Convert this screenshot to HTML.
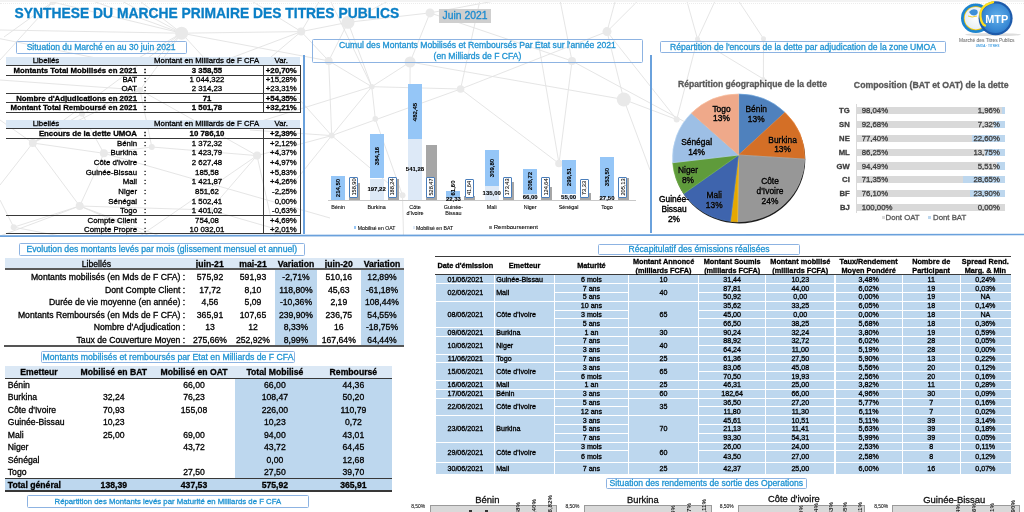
<!DOCTYPE html>
<html><head><meta charset="utf-8"><title>Synthese du marche primaire</title>
<style>
html,body{margin:0;padding:0;}
body{width:1024px;height:512px;overflow:hidden;background:#fff;position:relative;font-family:'Liberation Sans',sans-serif;}
.t{position:absolute;white-space:nowrap;-webkit-text-stroke:0.3px currentColor;}
.r{position:absolute;}
svg{position:absolute;left:0;top:0;}
</style></head><body>
<svg width="1024" height="512" style="position:absolute;left:0;top:0"><g stroke="#e2e2e2" stroke-width="0.9"><line x1="52.7" y1="2" x2="4" y2="37"/><line x1="52.7" y1="2" x2="181.6" y2="33.2"/><line x1="181.6" y1="33.2" x2="301.2" y2="31.6"/><line x1="181.6" y1="33.2" x2="32.8" y2="143"/><line x1="181.6" y1="33.2" x2="328.7" y2="60.9"/><line x1="301.2" y1="31.6" x2="348" y2="22.3"/><line x1="301.2" y1="31.6" x2="328.7" y2="60.9"/><line x1="301.2" y1="31.6" x2="250" y2="0"/><line x1="348" y1="22.3" x2="430" y2="12.9"/><line x1="348" y1="22.3" x2="328.7" y2="60.9"/><line x1="348" y1="22.3" x2="371.8" y2="86.7"/><line x1="328.7" y1="60.9" x2="371.8" y2="86.7"/><line x1="328.7" y1="60.9" x2="331.7" y2="135.6"/><line x1="410.1" y1="62" x2="371.8" y2="86.7"/><line x1="410.1" y1="62" x2="623.8" y2="99.5"/><line x1="410.1" y1="62" x2="410" y2="90"/><line x1="430" y1="12.9" x2="410.1" y2="62"/><line x1="430" y1="12.9" x2="572" y2="61"/><line x1="371.8" y1="86.7" x2="460.6" y2="89"/><line x1="371.8" y1="86.7" x2="375.3" y2="118.9"/><line x1="371.8" y1="86.7" x2="331.7" y2="135.6"/><line x1="331.7" y1="135.6" x2="460.6" y2="89"/><line x1="331.7" y1="135.6" x2="280" y2="200"/><line x1="331.7" y1="135.6" x2="402.5" y2="195.3"/><line x1="375.3" y1="118.9" x2="402.5" y2="195.3"/><line x1="402.5" y1="195.3" x2="403.5" y2="236"/><line x1="460.6" y1="89" x2="559" y2="163.5"/><line x1="460.6" y1="89" x2="607" y2="31.6"/><line x1="572" y1="61" x2="559" y2="163.5"/><line x1="538" y1="40" x2="559" y2="163.5"/><line x1="572" y1="61" x2="700" y2="130"/><line x1="607" y1="31.6" x2="623.8" y2="99.5"/><line x1="607" y1="31.6" x2="638.7" y2="0"/><line x1="623.8" y1="99.5" x2="676.7" y2="119.5"/><line x1="460.6" y1="89" x2="480" y2="0"/><line x1="371.8" y1="86.7" x2="330" y2="0"/><line x1="32.8" y1="143" x2="79.7" y2="206"/><line x1="32.8" y1="143" x2="0" y2="120"/><line x1="79.7" y1="206" x2="0" y2="236"/><line x1="79.7" y1="206" x2="150" y2="236"/><line x1="32.8" y1="143" x2="140" y2="90"/><line x1="140" y1="90" x2="181.6" y2="33.2"/><line x1="140" y1="90" x2="257" y2="155.6"/><line x1="257" y1="155.6" x2="331.7" y2="135.6"/><line x1="257" y1="155.6" x2="210" y2="210"/><line x1="79.7" y1="206" x2="210" y2="210"/><line x1="210" y1="210" x2="300" y2="236"/><line x1="52.7" y1="2" x2="0" y2="60"/><line x1="181.6" y1="33.2" x2="120" y2="0"/><line x1="348" y1="22.3" x2="390" y2="0"/><line x1="430" y1="12.9" x2="500" y2="0"/><line x1="572" y1="61" x2="560" y2="0"/><line x1="623.8" y1="99.5" x2="650" y2="170"/><line x1="140" y1="90" x2="0" y2="80"/><line x1="32.8" y1="143" x2="103.9" y2="153.3"/><line x1="103.9" y1="153.3" x2="151.8" y2="147"/><line x1="32.8" y1="143" x2="82" y2="113.7"/><line x1="82" y1="113.7" x2="103.9" y2="153.3"/><line x1="79.7" y1="206" x2="103.9" y2="153.3"/><line x1="79.7" y1="206" x2="13.7" y2="227.2"/><line x1="13.7" y1="227.2" x2="0" y2="200"/><line x1="151.8" y1="147" x2="257" y2="155.6"/><line x1="151.8" y1="147" x2="140" y2="90"/><line x1="82" y1="113.7" x2="140" y2="90"/><line x1="32.8" y1="143" x2="0" y2="185"/><line x1="79.7" y1="206" x2="160" y2="236"/><line x1="13.7" y1="227.2" x2="60" y2="236"/><line x1="607" y1="31.6" x2="615.5" y2="0"/><line x1="697.5" y1="39" x2="686.6" y2="0"/><line x1="697.5" y1="39" x2="715.5" y2="0"/><line x1="697.5" y1="39" x2="676.7" y2="119.5"/><line x1="763.5" y1="38.7" x2="738" y2="0"/><line x1="763.5" y1="38.7" x2="763.4" y2="79"/><line x1="697.5" y1="39" x2="763.4" y2="79"/><line x1="607" y1="31.6" x2="676.7" y2="119.5"/><line x1="371.8" y1="86.7" x2="250" y2="124.6"/><line x1="331.7" y1="135.6" x2="280" y2="77.7"/><line x1="331.7" y1="135.6" x2="250" y2="130"/><line x1="257" y1="155.6" x2="140" y2="236"/><line x1="257" y1="155.6" x2="275" y2="236"/><line x1="103.9" y1="153.3" x2="330" y2="218"/><line x1="181.6" y1="33.2" x2="135" y2="60"/><line x1="181.6" y1="33.2" x2="155" y2="60"/><line x1="181.6" y1="33.2" x2="206" y2="60"/><line x1="181.6" y1="33.2" x2="138.6" y2="0"/><line x1="0" y1="30" x2="181.6" y2="33.2"/><line x1="90" y1="0" x2="181.6" y2="33.2"/><line x1="225.6" y1="60" x2="301.2" y2="31.6"/><line x1="267.5" y1="60" x2="301.2" y2="31.6"/><line x1="0" y1="38.7" x2="106" y2="60"/><line x1="320" y1="0" x2="301.2" y2="31.6"/></g><g fill="#e9e9e9"><circle cx="52.7" cy="2" r="3"/><circle cx="181.6" cy="33.2" r="6.5"/><circle cx="301.2" cy="31.6" r="4"/><circle cx="348" cy="22.3" r="6.5"/><circle cx="328.7" cy="60.9" r="4"/><circle cx="410.1" cy="62" r="5.5"/><circle cx="430" cy="12.9" r="4.5"/><circle cx="371.8" cy="86.7" r="2.8"/><circle cx="460.6" cy="89" r="3.8"/><circle cx="375.3" cy="118.9" r="2.8"/><circle cx="331.7" cy="135.6" r="3"/><circle cx="402.5" cy="195.3" r="3"/><circle cx="559" cy="163.5" r="3.8"/><circle cx="623.8" cy="99.5" r="7"/><circle cx="572" cy="61" r="4"/><circle cx="607" cy="31.6" r="4.5"/><circle cx="676.7" cy="119.5" r="3"/><circle cx="32.8" cy="143" r="4"/><circle cx="79.7" cy="206" r="4"/><circle cx="140" cy="90" r="3"/><circle cx="257" cy="155.6" r="4"/><circle cx="210" cy="210" r="3"/><circle cx="763.5" cy="38.7" r="2.5"/><circle cx="103.9" cy="153.3" r="4"/><circle cx="151.8" cy="147" r="3"/><circle cx="13.7" cy="227.2" r="3"/><circle cx="82" cy="113.7" r="3"/><circle cx="697.5" cy="39" r="2.5"/><circle cx="763.4" cy="79" r="2"/></g></svg>
<div class="r" style="left:0.00px;top:0.00px;width:1024.00px;height:1.50px;background:#f3f3f3;"></div>
<div class="r" style="left:0;top:3px;width:1024px;height:0;border-top:1px dotted #ececec"></div>
<div class="t" style="left:14.60px;top:4.89px;width:400px;height:16.62px;line-height:16.62px;font-size:13.85px;font-weight:bold;color:#0a7fc6;text-align:left;">SYNTHESE DU MARCHE PRIMAIRE DES TITRES PUBLICS</div>
<div class="r" style="left:439.10px;top:8.90px;width:52.30px;height:14.60px;background:#cfcfcf;"></div>
<div class="t" style="left:265.00px;top:9.89px;width:400px;height:12.42px;line-height:12.42px;font-size:10.35px;color:#1a8bd0;text-align:center;">Juin 2021</div>
<div class="r" style="left:303.00px;top:55.00px;width:2.00px;height:179.00px;background:#6aa1dc;"></div>
<div class="r" style="left:650.30px;top:55.00px;width:1.70px;height:178.00px;background:#6aa1dc;"></div>
<svg width="1024" height="512" style="position:absolute;left:0;top:0"><line x1="0" y1="236.1" x2="1024" y2="234.5" stroke="#6aa1dc" stroke-width="1.7"/></svg>
<div class="r" style="left:15.60px;top:40.60px;width:171.00px;height:13.00px;box-sizing:border-box;border:1.2px solid #8db3e2;background:transparent;border-radius:1.5px"></div>
<div class="t" style="left:-98.90px;top:41.96px;width:400px;height:10.27px;line-height:10.27px;font-size:8.56px;letter-spacing:0.006px;color:#1f93d3;text-align:center;">Situation du Marché en au 30 juin 2021</div>
<div class="r" style="left:311.70px;top:39.00px;width:331.60px;height:24.00px;box-sizing:border-box;border:1.2px solid #8db3e2;background:transparent;border-radius:1.5px"></div>
<div class="t" style="left:277.50px;top:39.69px;width:400px;height:10.32px;line-height:10.32px;font-size:8.6px;color:#1f93d3;text-align:center;">Cumul des Montants Mobilisés et Remboursés Par Etat sur l'année 2021</div>
<div class="t" style="left:277.50px;top:50.99px;width:400px;height:10.32px;line-height:10.32px;font-size:8.6px;color:#1f93d3;text-align:center;">(en Milliards de F CFA)</div>
<div class="r" style="left:660.20px;top:41.20px;width:285.60px;height:12.10px;box-sizing:border-box;border:1.2px solid #8db3e2;background:transparent;border-radius:1.5px"></div>
<div class="t" style="left:603.00px;top:42.09px;width:400px;height:10.32px;line-height:10.32px;font-size:8.6px;color:#1f93d3;text-align:center;">Répartition de l'encours de la dette par adjudication de la zone UMOA</div>
<div class="r" style="left:18.50px;top:243.00px;width:286.50px;height:12.50px;box-sizing:border-box;border:1.2px solid #8db3e2;background:transparent;border-radius:1.5px"></div>
<div class="t" style="left:-38.25px;top:244.06px;width:400px;height:10.38px;line-height:10.38px;font-size:8.65px;letter-spacing:0.012px;color:#1f93d3;text-align:center;">Evolution des montants levés par mois (glissement mensuel et annuel)</div>
<div class="r" style="left:40.60px;top:351.40px;width:254.80px;height:11.80px;box-sizing:border-box;border:1.2px solid #8db3e2;background:transparent;border-radius:1.5px"></div>
<div class="t" style="left:-32.00px;top:352.08px;width:400px;height:10.44px;line-height:10.44px;font-size:8.7px;letter-spacing:0.006px;color:#1f93d3;text-align:center;">Montants mobilisés et remboursés par Etat en Milliards de F CFA</div>
<div class="r" style="left:26.70px;top:495.10px;width:282.30px;height:13.00px;box-sizing:border-box;border:1.2px solid #8db3e2;background:transparent;border-radius:1.5px"></div>
<div class="t" style="left:-32.15px;top:496.94px;width:400px;height:9.32px;line-height:9.32px;font-size:7.77px;color:#1f93d3;text-align:center;">Répartition des Montants levés par Maturité en Milliards de F CFA</div>
<div class="r" style="left:598.10px;top:243.80px;width:201.90px;height:11.10px;box-sizing:border-box;border:1.2px solid #8db3e2;background:transparent;border-radius:1.5px"></div>
<div class="t" style="left:499.05px;top:244.19px;width:400px;height:10.32px;line-height:10.32px;font-size:8.6px;color:#1f93d3;text-align:center;">Récapitulatif des émissions réalisées</div>
<div class="r" style="left:605.50px;top:477.80px;width:201.70px;height:11.00px;box-sizing:border-box;border:1.2px solid #8db3e2;background:transparent;border-radius:1.5px"></div>
<div class="t" style="left:506.35px;top:478.14px;width:400px;height:10.32px;line-height:10.32px;font-size:8.6px;color:#1f93d3;text-align:center;">Situation des rendements de sortie des Operations</div>
<div class="r" style="left:5.50px;top:56.80px;width:294.50px;height:7.80px;background:#dbe8f5;"></div>
<div class="t" style="left:-154.00px;top:56.31px;width:400px;height:9.38px;line-height:9.38px;font-size:7.82px;color:#000;text-align:center;">Libellés</div>
<div class="t" style="left:6.60px;top:56.31px;width:400px;height:9.38px;line-height:9.38px;font-size:7.82px;color:#000;text-align:center;">Montant en Milliards de F CFA</div>
<div class="t" style="left:81.20px;top:56.31px;width:400px;height:9.38px;line-height:9.38px;font-size:7.82px;color:#000;text-align:center;">Var.</div>
<div class="r" style="left:5.50px;top:65.00px;width:295.30px;height:1.00px;background:#383838;"></div>
<div class="t" style="left:-263.00px;top:65.91px;width:400px;height:9.38px;line-height:9.38px;font-size:7.82px;font-weight:bold;color:#000;text-align:right;">Montants Total Mobilisés en 2021</div>
<div class="t" style="left:-55.00px;top:65.91px;width:400px;height:9.38px;line-height:9.38px;font-size:7.82px;font-weight:bold;color:#000;text-align:center;">:</div>
<div class="t" style="left:7.00px;top:65.91px;width:400px;height:9.38px;line-height:9.38px;font-size:7.82px;font-weight:bold;color:#000;text-align:center;">3 358,55</div>
<div class="t" style="left:-103.20px;top:65.91px;width:400px;height:9.38px;line-height:9.38px;font-size:7.82px;font-weight:bold;color:#000;text-align:right;">+20,70%</div>
<div class="t" style="left:-263.00px;top:75.21px;width:400px;height:9.38px;line-height:9.38px;font-size:7.82px;color:#000;text-align:right;">BAT</div>
<div class="t" style="left:-55.00px;top:75.21px;width:400px;height:9.38px;line-height:9.38px;font-size:7.82px;color:#000;text-align:center;">:</div>
<div class="t" style="left:7.00px;top:75.21px;width:400px;height:9.38px;line-height:9.38px;font-size:7.82px;color:#000;text-align:center;">1 044,322</div>
<div class="t" style="left:-103.20px;top:75.21px;width:400px;height:9.38px;line-height:9.38px;font-size:7.82px;color:#000;text-align:right;">+15,28%</div>
<div class="t" style="left:-263.00px;top:84.21px;width:400px;height:9.38px;line-height:9.38px;font-size:7.82px;color:#000;text-align:right;">OAT</div>
<div class="t" style="left:-55.00px;top:84.21px;width:400px;height:9.38px;line-height:9.38px;font-size:7.82px;color:#000;text-align:center;">:</div>
<div class="t" style="left:7.00px;top:84.21px;width:400px;height:9.38px;line-height:9.38px;font-size:7.82px;color:#000;text-align:center;">2 314,23</div>
<div class="t" style="left:-103.20px;top:84.21px;width:400px;height:9.38px;line-height:9.38px;font-size:7.82px;color:#000;text-align:right;">+23,31%</div>
<div class="t" style="left:-263.00px;top:93.51px;width:400px;height:9.38px;line-height:9.38px;font-size:7.82px;font-weight:bold;color:#000;text-align:right;">Nombre d'Adjudications en 2021</div>
<div class="t" style="left:-55.00px;top:93.51px;width:400px;height:9.38px;line-height:9.38px;font-size:7.82px;font-weight:bold;color:#000;text-align:center;">:</div>
<div class="t" style="left:7.00px;top:93.51px;width:400px;height:9.38px;line-height:9.38px;font-size:7.82px;font-weight:bold;color:#000;text-align:center;">71</div>
<div class="t" style="left:-103.20px;top:93.51px;width:400px;height:9.38px;line-height:9.38px;font-size:7.82px;font-weight:bold;color:#000;text-align:right;">+54,35%</div>
<div class="t" style="left:-263.00px;top:102.91px;width:400px;height:9.38px;line-height:9.38px;font-size:7.82px;font-weight:bold;color:#000;text-align:right;">Montant Total Remboursé en 2021</div>
<div class="t" style="left:-55.00px;top:102.91px;width:400px;height:9.38px;line-height:9.38px;font-size:7.82px;font-weight:bold;color:#000;text-align:center;">:</div>
<div class="t" style="left:7.00px;top:102.91px;width:400px;height:9.38px;line-height:9.38px;font-size:7.82px;font-weight:bold;color:#000;text-align:center;">1 501,78</div>
<div class="t" style="left:-103.20px;top:102.91px;width:400px;height:9.38px;line-height:9.38px;font-size:7.82px;font-weight:bold;color:#000;text-align:right;">+32,21%</div>
<div class="r" style="left:5.50px;top:75.00px;width:295.30px;height:1.00px;background:#383838;"></div>
<div class="r" style="left:5.50px;top:93.00px;width:295.30px;height:1.00px;background:#383838;"></div>
<div class="r" style="left:5.50px;top:102.00px;width:295.30px;height:1.00px;background:#383838;"></div>
<div class="r" style="left:5.50px;top:112.00px;width:295.30px;height:1.00px;background:#383838;"></div>
<div class="r" style="left:263.00px;top:65.10px;width:1.00px;height:48.10px;background:#383838;"></div>
<div class="r" style="left:300.00px;top:65.10px;width:1.00px;height:48.10px;background:#383838;"></div>
<div class="r" style="left:5.50px;top:119.70px;width:294.50px;height:8.20px;background:#dbe8f5;"></div>
<div class="t" style="left:-154.00px;top:119.41px;width:400px;height:9.38px;line-height:9.38px;font-size:7.82px;color:#000;text-align:center;">Libellés</div>
<div class="t" style="left:6.60px;top:119.41px;width:400px;height:9.38px;line-height:9.38px;font-size:7.82px;color:#000;text-align:center;">Montant en Milliards de F CFA</div>
<div class="t" style="left:81.20px;top:119.41px;width:400px;height:9.38px;line-height:9.38px;font-size:7.82px;color:#000;text-align:center;">Var.</div>
<div class="r" style="left:5.50px;top:128.00px;width:295.30px;height:1.00px;background:#383838;"></div>
<div class="t" style="left:-263.00px;top:128.91px;width:400px;height:9.38px;line-height:9.38px;font-size:7.82px;font-weight:bold;color:#000;text-align:right;">Encours de la dette UMOA</div>
<div class="t" style="left:-55.00px;top:128.91px;width:400px;height:9.38px;line-height:9.38px;font-size:7.82px;font-weight:bold;color:#000;text-align:center;">:</div>
<div class="t" style="left:7.00px;top:128.91px;width:400px;height:9.38px;line-height:9.38px;font-size:7.82px;font-weight:bold;color:#000;text-align:center;">10 786,10</div>
<div class="t" style="left:-103.20px;top:128.91px;width:400px;height:9.38px;line-height:9.38px;font-size:7.82px;font-weight:bold;color:#000;text-align:right;">+2,39%</div>
<div class="t" style="left:-263.00px;top:138.81px;width:400px;height:9.38px;line-height:9.38px;font-size:7.82px;color:#000;text-align:right;">Bénin</div>
<div class="t" style="left:-55.00px;top:138.81px;width:400px;height:9.38px;line-height:9.38px;font-size:7.82px;color:#000;text-align:center;">:</div>
<div class="t" style="left:7.00px;top:138.81px;width:400px;height:9.38px;line-height:9.38px;font-size:7.82px;color:#000;text-align:center;">1 372,32</div>
<div class="t" style="left:-103.20px;top:138.81px;width:400px;height:9.38px;line-height:9.38px;font-size:7.82px;color:#000;text-align:right;">+2,12%</div>
<div class="t" style="left:-263.00px;top:148.46px;width:400px;height:9.38px;line-height:9.38px;font-size:7.82px;color:#000;text-align:right;">Burkina</div>
<div class="t" style="left:-55.00px;top:148.46px;width:400px;height:9.38px;line-height:9.38px;font-size:7.82px;color:#000;text-align:center;">:</div>
<div class="t" style="left:7.00px;top:148.46px;width:400px;height:9.38px;line-height:9.38px;font-size:7.82px;color:#000;text-align:center;">1 423,79</div>
<div class="t" style="left:-103.20px;top:148.46px;width:400px;height:9.38px;line-height:9.38px;font-size:7.82px;color:#000;text-align:right;">+4,37%</div>
<div class="t" style="left:-263.00px;top:158.11px;width:400px;height:9.38px;line-height:9.38px;font-size:7.82px;color:#000;text-align:right;">Côte d'ivoire</div>
<div class="t" style="left:-55.00px;top:158.11px;width:400px;height:9.38px;line-height:9.38px;font-size:7.82px;color:#000;text-align:center;">:</div>
<div class="t" style="left:7.00px;top:158.11px;width:400px;height:9.38px;line-height:9.38px;font-size:7.82px;color:#000;text-align:center;">2 627,48</div>
<div class="t" style="left:-103.20px;top:158.11px;width:400px;height:9.38px;line-height:9.38px;font-size:7.82px;color:#000;text-align:right;">+4,97%</div>
<div class="t" style="left:-263.00px;top:167.76px;width:400px;height:9.38px;line-height:9.38px;font-size:7.82px;color:#000;text-align:right;">Guinée-Bissau</div>
<div class="t" style="left:-55.00px;top:167.76px;width:400px;height:9.38px;line-height:9.38px;font-size:7.82px;color:#000;text-align:center;">:</div>
<div class="t" style="left:7.00px;top:167.76px;width:400px;height:9.38px;line-height:9.38px;font-size:7.82px;color:#000;text-align:center;">185,58</div>
<div class="t" style="left:-103.20px;top:167.76px;width:400px;height:9.38px;line-height:9.38px;font-size:7.82px;color:#000;text-align:right;">+5,83%</div>
<div class="t" style="left:-263.00px;top:177.41px;width:400px;height:9.38px;line-height:9.38px;font-size:7.82px;color:#000;text-align:right;">Mali</div>
<div class="t" style="left:-55.00px;top:177.41px;width:400px;height:9.38px;line-height:9.38px;font-size:7.82px;color:#000;text-align:center;">:</div>
<div class="t" style="left:7.00px;top:177.41px;width:400px;height:9.38px;line-height:9.38px;font-size:7.82px;color:#000;text-align:center;">1 421,87</div>
<div class="t" style="left:-103.20px;top:177.41px;width:400px;height:9.38px;line-height:9.38px;font-size:7.82px;color:#000;text-align:right;">+4,26%</div>
<div class="t" style="left:-263.00px;top:187.06px;width:400px;height:9.38px;line-height:9.38px;font-size:7.82px;color:#000;text-align:right;">Niger</div>
<div class="t" style="left:-55.00px;top:187.06px;width:400px;height:9.38px;line-height:9.38px;font-size:7.82px;color:#000;text-align:center;">:</div>
<div class="t" style="left:7.00px;top:187.06px;width:400px;height:9.38px;line-height:9.38px;font-size:7.82px;color:#000;text-align:center;">851,62</div>
<div class="t" style="left:-103.20px;top:187.06px;width:400px;height:9.38px;line-height:9.38px;font-size:7.82px;color:#000;text-align:right;">-2,25%</div>
<div class="t" style="left:-263.00px;top:196.71px;width:400px;height:9.38px;line-height:9.38px;font-size:7.82px;color:#000;text-align:right;">Sénégal</div>
<div class="t" style="left:-55.00px;top:196.71px;width:400px;height:9.38px;line-height:9.38px;font-size:7.82px;color:#000;text-align:center;">:</div>
<div class="t" style="left:7.00px;top:196.71px;width:400px;height:9.38px;line-height:9.38px;font-size:7.82px;color:#000;text-align:center;">1 502,41</div>
<div class="t" style="left:-103.20px;top:196.71px;width:400px;height:9.38px;line-height:9.38px;font-size:7.82px;color:#000;text-align:right;">0,00%</div>
<div class="t" style="left:-263.00px;top:206.36px;width:400px;height:9.38px;line-height:9.38px;font-size:7.82px;color:#000;text-align:right;">Togo</div>
<div class="t" style="left:-55.00px;top:206.36px;width:400px;height:9.38px;line-height:9.38px;font-size:7.82px;color:#000;text-align:center;">:</div>
<div class="t" style="left:7.00px;top:206.36px;width:400px;height:9.38px;line-height:9.38px;font-size:7.82px;color:#000;text-align:center;">1 401,02</div>
<div class="t" style="left:-103.20px;top:206.36px;width:400px;height:9.38px;line-height:9.38px;font-size:7.82px;color:#000;text-align:right;">-0,63%</div>
<div class="t" style="left:-263.00px;top:216.21px;width:400px;height:9.38px;line-height:9.38px;font-size:7.82px;color:#000;text-align:right;">Compte Client</div>
<div class="t" style="left:-55.00px;top:216.21px;width:400px;height:9.38px;line-height:9.38px;font-size:7.82px;color:#000;text-align:center;">:</div>
<div class="t" style="left:7.00px;top:216.21px;width:400px;height:9.38px;line-height:9.38px;font-size:7.82px;color:#000;text-align:center;">754,08</div>
<div class="t" style="left:-103.20px;top:216.21px;width:400px;height:9.38px;line-height:9.38px;font-size:7.82px;color:#000;text-align:right;">+4,69%</div>
<div class="t" style="left:-263.00px;top:225.31px;width:400px;height:9.38px;line-height:9.38px;font-size:7.82px;color:#000;text-align:right;">Compte Propre</div>
<div class="t" style="left:-55.00px;top:225.31px;width:400px;height:9.38px;line-height:9.38px;font-size:7.82px;color:#000;text-align:center;">:</div>
<div class="t" style="left:7.00px;top:225.31px;width:400px;height:9.38px;line-height:9.38px;font-size:7.82px;color:#000;text-align:center;">10 032,01</div>
<div class="t" style="left:-103.20px;top:225.31px;width:400px;height:9.38px;line-height:9.38px;font-size:7.82px;color:#000;text-align:right;">+2,01%</div>
<div class="r" style="left:5.50px;top:138.00px;width:295.30px;height:1.00px;background:#383838;"></div>
<div class="r" style="left:5.50px;top:215.00px;width:295.30px;height:1.00px;background:#383838;"></div>
<div class="r" style="left:5.50px;top:233.00px;width:295.30px;height:1.00px;background:#383838;"></div>
<div class="r" style="left:263.00px;top:128.20px;width:1.00px;height:106.00px;background:#383838;"></div>
<div class="r" style="left:300.00px;top:128.20px;width:1.00px;height:106.00px;background:#383838;"></div>
<div class="r" style="left:328.30px;top:200.30px;width:308.00px;height:0.90px;background:#c8c8c8;"></div>
<div class="r" style="left:331.10px;top:175.60px;width:14.20px;height:24.70px;background:#95c6f7;"></div>
<div class="r" style="left:349.10px;top:183.10px;width:11.00px;height:17.20px;background:#a6a6a6;"></div>
<div class="t" style="left:323.20px;top:183.95px;width:30px;height:8px;line-height:8px;font-size:6px;font-weight:bold;text-align:center;transform:rotate(-90deg);-webkit-text-stroke:0.1px currentColor">214,50</div>
<div class="r" style="left:349.30px;top:176.50px;width:9.10px;height:21.50px;box-sizing:border-box;border:1px solid #4a7ebb;background:#fff;border-radius:1px"></div>
<div class="t" style="left:338.85px;top:183.25px;width:30px;height:8px;line-height:8px;font-size:5.6px;text-align:center;transform:rotate(-90deg);-webkit-text-stroke:0.05px currentColor">158,90</div>
<div class="t" style="left:138.20px;top:204.20px;width:400px;height:6.00px;line-height:6.00px;font-size:5.4px;-webkit-text-stroke:0.08px currentColor;color:#000;text-align:center;">Bénin</div>
<div class="r" style="left:369.50px;top:134.10px;width:14.20px;height:44.40px;background:#95c6f7;"></div>
<div class="r" style="left:369.50px;top:178.50px;width:14.20px;height:21.80px;background:#dde9f7;"></div>
<div class="r" style="left:387.50px;top:178.50px;width:11.00px;height:21.80px;background:#a6a6a6;"></div>
<div class="t" style="left:361.60px;top:152.30px;width:30px;height:8px;line-height:8px;font-size:6px;font-weight:bold;text-align:center;transform:rotate(-90deg);-webkit-text-stroke:0.1px currentColor">384,16</div>
<div class="t" style="left:176.60px;top:185.90px;width:400px;height:7.00px;line-height:7.00px;font-size:6px;font-weight:bold;-webkit-text-stroke:0.08px currentColor;color:#000;text-align:center;">197,22</div>
<div class="r" style="left:387.70px;top:176.50px;width:9.10px;height:21.50px;box-sizing:border-box;border:1px solid #4a7ebb;background:#fff;border-radius:1px"></div>
<div class="t" style="left:377.25px;top:183.25px;width:30px;height:8px;line-height:8px;font-size:5.6px;text-align:center;transform:rotate(-90deg);-webkit-text-stroke:0.05px currentColor">188,24</div>
<div class="t" style="left:176.60px;top:204.20px;width:400px;height:6.00px;line-height:6.00px;font-size:5.4px;-webkit-text-stroke:0.08px currentColor;color:#000;text-align:center;">Burkina</div>
<div class="r" style="left:407.90px;top:84.00px;width:14.20px;height:55.30px;background:#95c6f7;"></div>
<div class="r" style="left:407.90px;top:139.30px;width:14.20px;height:61.00px;background:#dde9f7;"></div>
<div class="r" style="left:425.90px;top:144.70px;width:11.00px;height:55.60px;background:#a6a6a6;"></div>
<div class="t" style="left:400.00px;top:107.65px;width:30px;height:8px;line-height:8px;font-size:6px;font-weight:bold;text-align:center;transform:rotate(-90deg);-webkit-text-stroke:0.1px currentColor">482,45</div>
<div class="t" style="left:215.00px;top:166.30px;width:400px;height:7.00px;line-height:7.00px;font-size:6px;font-weight:bold;-webkit-text-stroke:0.08px currentColor;color:#000;text-align:center;">541,28</div>
<div class="r" style="left:426.10px;top:176.50px;width:9.10px;height:21.50px;box-sizing:border-box;border:1px solid #4a7ebb;background:#fff;border-radius:1px"></div>
<div class="t" style="left:415.65px;top:183.25px;width:30px;height:8px;line-height:8px;font-size:5.6px;text-align:center;transform:rotate(-90deg);-webkit-text-stroke:0.05px currentColor">528,47</div>
<div class="t" style="left:215.00px;top:204.10px;width:400px;height:6.00px;line-height:6.00px;font-size:5.4px;-webkit-text-stroke:0.08px currentColor;color:#000;text-align:center;">Côte</div>
<div class="t" style="left:215.00px;top:209.60px;width:400px;height:6.00px;line-height:6.00px;font-size:5.4px;-webkit-text-stroke:0.08px currentColor;color:#000;text-align:center;">d'Ivoire</div>
<div class="r" style="left:446.30px;top:191.20px;width:14.20px;height:6.60px;background:#95c6f7;"></div>
<div class="r" style="left:446.30px;top:197.80px;width:14.20px;height:2.50px;background:#dde9f7;"></div>
<div class="r" style="left:464.30px;top:195.80px;width:11.00px;height:4.50px;background:#a6a6a6;"></div>
<div class="t" style="left:438.40px;top:183.80px;width:30px;height:8px;line-height:8px;font-size:6px;font-weight:bold;text-align:center;transform:rotate(-90deg);-webkit-text-stroke:0.1px currentColor">61,60</div>
<div class="t" style="left:253.40px;top:195.55px;width:400px;height:7.00px;line-height:7.00px;font-size:6px;font-weight:bold;-webkit-text-stroke:0.08px currentColor;color:#000;text-align:center;">22,33</div>
<div class="r" style="left:464.50px;top:178.90px;width:9.10px;height:19.10px;box-sizing:border-box;border:1px solid #4a7ebb;background:#fff;border-radius:1px"></div>
<div class="t" style="left:454.05px;top:184.45px;width:30px;height:8px;line-height:8px;font-size:5.6px;text-align:center;transform:rotate(-90deg);-webkit-text-stroke:0.05px currentColor">41,64</div>
<div class="t" style="left:253.40px;top:204.10px;width:400px;height:6.00px;line-height:6.00px;font-size:5.4px;-webkit-text-stroke:0.08px currentColor;color:#000;text-align:center;">Guinée-</div>
<div class="t" style="left:253.40px;top:209.60px;width:400px;height:6.00px;line-height:6.00px;font-size:5.4px;-webkit-text-stroke:0.08px currentColor;color:#000;text-align:center;">Bissau</div>
<div class="r" style="left:484.70px;top:150.00px;width:14.20px;height:35.70px;background:#95c6f7;"></div>
<div class="r" style="left:484.70px;top:185.70px;width:14.20px;height:14.60px;background:#dde9f7;"></div>
<div class="r" style="left:502.70px;top:181.80px;width:11.00px;height:18.50px;background:#a6a6a6;"></div>
<div class="t" style="left:476.80px;top:163.85px;width:30px;height:8px;line-height:8px;font-size:6px;font-weight:bold;text-align:center;transform:rotate(-90deg);-webkit-text-stroke:0.1px currentColor">309,80</div>
<div class="t" style="left:291.80px;top:189.50px;width:400px;height:7.00px;line-height:7.00px;font-size:6px;font-weight:bold;-webkit-text-stroke:0.08px currentColor;color:#000;text-align:center;">135,00</div>
<div class="r" style="left:502.90px;top:176.50px;width:9.10px;height:21.50px;box-sizing:border-box;border:1px solid #4a7ebb;background:#fff;border-radius:1px"></div>
<div class="t" style="left:492.45px;top:183.25px;width:30px;height:8px;line-height:8px;font-size:5.6px;text-align:center;transform:rotate(-90deg);-webkit-text-stroke:0.05px currentColor">173,43</div>
<div class="t" style="left:291.80px;top:204.20px;width:400px;height:6.00px;line-height:6.00px;font-size:5.4px;-webkit-text-stroke:0.08px currentColor;color:#000;text-align:center;">Mali</div>
<div class="r" style="left:523.10px;top:168.90px;width:14.20px;height:25.00px;background:#95c6f7;"></div>
<div class="r" style="left:523.10px;top:193.90px;width:14.20px;height:6.40px;background:#dde9f7;"></div>
<div class="r" style="left:541.10px;top:187.20px;width:11.00px;height:13.10px;background:#a6a6a6;"></div>
<div class="t" style="left:515.20px;top:177.40px;width:30px;height:8px;line-height:8px;font-size:6px;font-weight:bold;text-align:center;transform:rotate(-90deg);-webkit-text-stroke:0.1px currentColor">208,72</div>
<div class="t" style="left:330.20px;top:193.60px;width:400px;height:7.00px;line-height:7.00px;font-size:6px;font-weight:bold;-webkit-text-stroke:0.08px currentColor;color:#000;text-align:center;">66,00</div>
<div class="r" style="left:541.30px;top:176.50px;width:9.10px;height:21.50px;box-sizing:border-box;border:1px solid #4a7ebb;background:#fff;border-radius:1px"></div>
<div class="t" style="left:530.85px;top:183.25px;width:30px;height:8px;line-height:8px;font-size:5.6px;text-align:center;transform:rotate(-90deg);-webkit-text-stroke:0.05px currentColor">124,64</div>
<div class="t" style="left:330.20px;top:204.20px;width:400px;height:6.00px;line-height:6.00px;font-size:5.4px;-webkit-text-stroke:0.08px currentColor;color:#000;text-align:center;">Niger</div>
<div class="r" style="left:561.50px;top:159.80px;width:14.20px;height:34.70px;background:#95c6f7;"></div>
<div class="r" style="left:561.50px;top:194.50px;width:14.20px;height:5.80px;background:#dde9f7;"></div>
<div class="r" style="left:579.50px;top:192.80px;width:11.00px;height:7.50px;background:#a6a6a6;"></div>
<div class="t" style="left:553.60px;top:173.15px;width:30px;height:8px;line-height:8px;font-size:6px;font-weight:bold;text-align:center;transform:rotate(-90deg);-webkit-text-stroke:0.1px currentColor">299,51</div>
<div class="t" style="left:368.60px;top:193.90px;width:400px;height:7.00px;line-height:7.00px;font-size:6px;font-weight:bold;-webkit-text-stroke:0.08px currentColor;color:#000;text-align:center;">55,00</div>
<div class="r" style="left:579.70px;top:178.90px;width:9.10px;height:19.10px;box-sizing:border-box;border:1px solid #4a7ebb;background:#fff;border-radius:1px"></div>
<div class="t" style="left:569.25px;top:184.45px;width:30px;height:8px;line-height:8px;font-size:5.6px;text-align:center;transform:rotate(-90deg);-webkit-text-stroke:0.05px currentColor">73,33</div>
<div class="t" style="left:368.60px;top:204.20px;width:400px;height:6.00px;line-height:6.00px;font-size:5.4px;-webkit-text-stroke:0.08px currentColor;color:#000;text-align:center;">Sénégal</div>
<div class="r" style="left:599.90px;top:156.90px;width:14.20px;height:40.30px;background:#95c6f7;"></div>
<div class="r" style="left:599.90px;top:197.20px;width:14.20px;height:3.10px;background:#dde9f7;"></div>
<div class="r" style="left:617.90px;top:178.40px;width:11.00px;height:21.90px;background:#a6a6a6;"></div>
<div class="t" style="left:592.00px;top:173.05px;width:30px;height:8px;line-height:8px;font-size:6px;font-weight:bold;text-align:center;transform:rotate(-90deg);-webkit-text-stroke:0.1px currentColor">353,50</div>
<div class="t" style="left:407.00px;top:195.25px;width:400px;height:7.00px;line-height:7.00px;font-size:6px;font-weight:bold;-webkit-text-stroke:0.08px currentColor;color:#000;text-align:center;">27,50</div>
<div class="r" style="left:618.10px;top:176.50px;width:9.10px;height:21.50px;box-sizing:border-box;border:1px solid #4a7ebb;background:#fff;border-radius:1px"></div>
<div class="t" style="left:607.65px;top:183.25px;width:30px;height:8px;line-height:8px;font-size:5.6px;text-align:center;transform:rotate(-90deg);-webkit-text-stroke:0.05px currentColor">205,13</div>
<div class="t" style="left:407.00px;top:204.20px;width:400px;height:6.00px;line-height:6.00px;font-size:5.4px;-webkit-text-stroke:0.08px currentColor;color:#000;text-align:center;">Togo</div>
<div class="r" style="left:353.60px;top:226.20px;width:2.40px;height:3.00px;background:#95c6f7;"></div>
<div class="t" style="left:357.80px;top:224.60px;width:400px;height:6.00px;line-height:6.00px;font-size:5.15px;-webkit-text-stroke:0.08px currentColor;color:#000;text-align:left;">Mobilisé en OAT</div>
<div class="r" style="left:412.50px;top:226.20px;width:2.10px;height:3.00px;background:#dde9f7;"></div>
<div class="t" style="left:416.00px;top:224.60px;width:400px;height:6.00px;line-height:6.00px;font-size:5.15px;-webkit-text-stroke:0.08px currentColor;letter-spacing:0.005px;color:#000;text-align:left;">Mobilisé en BAT</div>
<div class="r" style="left:489.40px;top:225.60px;width:2.50px;height:3.20px;background:#8a8a8a;"></div>
<div class="t" style="left:493.80px;top:224.00px;width:400px;height:6.00px;line-height:6.00px;font-size:5.98px;-webkit-text-stroke:0.08px currentColor;letter-spacing:0.006px;color:#000;text-align:left;">Remboursement</div>
<div class="t" style="left:552.50px;top:79.06px;width:400px;height:10.28px;line-height:10.28px;font-size:8.57px;font-weight:bold;color:#595959;text-align:center;">Répartition géographique de la dette</div>
<svg width="1024" height="512" style="position:absolute;left:0;top:0"><ellipse cx="739.2" cy="159.5" rx="66.1" ry="63.9" fill="#1c1c1c"/><path d="M738.6,155.0 L738.60,94.00 A66.1,63.9 0 0 1 785.01,112.39 Z" fill="#4f81bd" stroke="#6fa6dc" stroke-width="0.7" stroke-linejoin="round"/><path d="M738.6,155.0 L785.01,112.39 A66.1,63.9 0 0 1 804.69,159.10 Z" fill="#d46f26" stroke="#f08a3c" stroke-width="0.7" stroke-linejoin="round"/><path d="M738.6,155.0 L804.69,159.10 A66.1,63.9 0 0 1 737.50,221.79 Z" fill="#979797" stroke="#ababab" stroke-width="0.7" stroke-linejoin="round"/><path d="M738.6,155.0 L737.50,221.79 A66.1,63.9 0 0 1 730.46,221.31 Z" fill="#e6a800" stroke="#ffc72a" stroke-width="0.7" stroke-linejoin="round"/><path d="M738.6,155.0 L730.46,221.31 A66.1,63.9 0 0 1 683.77,193.59 Z" fill="#3e64ad" stroke="#4f7fd0" stroke-width="0.7" stroke-linejoin="round"/><path d="M738.6,155.0 L683.77,193.59 A66.1,63.9 0 0 1 672.69,162.71 Z" fill="#5f9b3b" stroke="#7cbb52" stroke-width="0.7" stroke-linejoin="round"/><path d="M738.6,155.0 L672.69,162.71 A66.1,63.9 0 0 1 691.38,113.18 Z" fill="#9dbfe5" stroke="#b5d3f0" stroke-width="0.7" stroke-linejoin="round"/><path d="M738.6,155.0 L691.38,113.18 A66.1,63.9 0 0 1 738.60,94.00 Z" fill="#efa98a" stroke="#f8c0a0" stroke-width="0.7" stroke-linejoin="round"/></svg>
<div class="t" style="left:556.20px;top:104.00px;width:400px;height:10.00px;line-height:10.00px;font-size:8.4px;letter-spacing:0.013px;color:#000;text-align:center;text-shadow:0 0 1px rgba(255,255,255,0.5);-webkit-text-stroke:0.38px #000;">Bénin</div>
<div class="t" style="left:556.20px;top:113.60px;width:400px;height:10.00px;line-height:10.00px;font-size:8.4px;letter-spacing:0.016px;color:#000;text-align:center;text-shadow:0 0 1px rgba(255,255,255,0.5);-webkit-text-stroke:0.38px #000;">13%</div>
<div class="t" style="left:582.60px;top:134.80px;width:400px;height:10.00px;line-height:10.00px;font-size:8.4px;letter-spacing:0.011px;color:#000;text-align:center;text-shadow:0 0 1px rgba(255,255,255,0.5);-webkit-text-stroke:0.38px #000;">Burkina</div>
<div class="t" style="left:582.60px;top:144.40px;width:400px;height:10.00px;line-height:10.00px;font-size:8.4px;letter-spacing:0.016px;color:#000;text-align:center;text-shadow:0 0 1px rgba(255,255,255,0.5);-webkit-text-stroke:0.38px #000;">13%</div>
<div class="t" style="left:570.00px;top:175.60px;width:400px;height:10.00px;line-height:10.00px;font-size:8.4px;letter-spacing:0.010px;color:#000;text-align:center;text-shadow:0 0 1px rgba(255,255,255,0.5);-webkit-text-stroke:0.38px #000;">Côte</div>
<div class="t" style="left:570.00px;top:186.00px;width:400px;height:10.00px;line-height:10.00px;font-size:8.4px;letter-spacing:0.008px;color:#000;text-align:center;text-shadow:0 0 1px rgba(255,255,255,0.5);-webkit-text-stroke:0.38px #000;">d'Ivoire</div>
<div class="t" style="left:570.00px;top:195.80px;width:400px;height:10.00px;line-height:10.00px;font-size:8.4px;letter-spacing:0.016px;color:#000;text-align:center;text-shadow:0 0 1px rgba(255,255,255,0.5);-webkit-text-stroke:0.38px #000;">24%</div>
<div class="t" style="left:514.20px;top:190.40px;width:400px;height:10.00px;line-height:10.00px;font-size:8.4px;letter-spacing:0.011px;color:#000;text-align:center;text-shadow:0 0 1px rgba(255,255,255,0.5);-webkit-text-stroke:0.38px #000;">Mali</div>
<div class="t" style="left:514.20px;top:200.40px;width:400px;height:10.00px;line-height:10.00px;font-size:8.4px;letter-spacing:0.016px;color:#000;text-align:center;text-shadow:0 0 1px rgba(255,255,255,0.5);-webkit-text-stroke:0.38px #000;">13%</div>
<div class="t" style="left:488.00px;top:164.60px;width:400px;height:10.00px;line-height:10.00px;font-size:8.4px;letter-spacing:0.012px;color:#000;text-align:center;text-shadow:0 0 1px rgba(255,255,255,0.5);-webkit-text-stroke:0.38px #000;">Niger</div>
<div class="t" style="left:488.00px;top:174.60px;width:400px;height:10.00px;line-height:10.00px;font-size:8.4px;letter-spacing:0.016px;color:#000;text-align:center;text-shadow:0 0 1px rgba(255,255,255,0.5);-webkit-text-stroke:0.38px #000;">8%</div>
<div class="t" style="left:496.60px;top:137.20px;width:400px;height:10.00px;line-height:10.00px;font-size:8.4px;letter-spacing:0.011px;color:#000;text-align:center;text-shadow:0 0 1px rgba(255,255,255,0.5);-webkit-text-stroke:0.38px #000;">Sénégal</div>
<div class="t" style="left:496.60px;top:146.80px;width:400px;height:10.00px;line-height:10.00px;font-size:8.4px;letter-spacing:0.016px;color:#000;text-align:center;text-shadow:0 0 1px rgba(255,255,255,0.5);-webkit-text-stroke:0.38px #000;">14%</div>
<div class="t" style="left:521.50px;top:103.60px;width:400px;height:10.00px;line-height:10.00px;font-size:8.4px;letter-spacing:0.011px;color:#000;text-align:center;text-shadow:0 0 1px rgba(255,255,255,0.5);-webkit-text-stroke:0.38px #000;">Togo</div>
<div class="t" style="left:521.50px;top:113.20px;width:400px;height:10.00px;line-height:10.00px;font-size:8.4px;letter-spacing:0.016px;color:#000;text-align:center;text-shadow:0 0 1px rgba(255,255,255,0.5);-webkit-text-stroke:0.38px #000;">13%</div>
<div class="t" style="left:474.00px;top:193.80px;width:400px;height:10.00px;line-height:10.00px;font-size:8.4px;letter-spacing:0.013px;color:#000;text-align:center;text-shadow:0 0 1px rgba(255,255,255,0.5);-webkit-text-stroke:0.38px #000;">Guinée-</div>
<div class="t" style="left:474.00px;top:204.00px;width:400px;height:10.00px;line-height:10.00px;font-size:8.4px;letter-spacing:0.012px;color:#000;text-align:center;text-shadow:0 0 1px rgba(255,255,255,0.5);-webkit-text-stroke:0.38px #000;">Bissau</div>
<div class="t" style="left:474.00px;top:214.20px;width:400px;height:10.00px;line-height:10.00px;font-size:8.4px;letter-spacing:0.016px;color:#000;text-align:center;text-shadow:0 0 1px rgba(255,255,255,0.5);-webkit-text-stroke:0.38px #000;">2%</div>
<div class="t" style="left:731.20px;top:80.07px;width:400px;height:10.46px;line-height:10.46px;font-size:8.72px;font-weight:bold;color:#595959;text-align:center;">Composition (BAT et OAT) de la dette</div>
<div class="r" style="left:856.20px;top:104.00px;width:0.90px;height:109.00px;background:#d9d9d9;"></div>
<div class="r" style="left:857.10px;top:107.10px;width:145.30px;height:7.30px;background:#d9d9d9;"></div>
<div class="r" style="left:1002.40px;top:107.10px;width:2.90px;height:7.30px;background:#bdd7ee;"></div>
<div class="t" style="left:449.80px;top:106.43px;width:400px;height:9.24px;line-height:9.24px;font-size:7.7px;font-weight:bold;color:#404040;text-align:right;">TG</div>
<div class="t" style="left:861.70px;top:106.47px;width:400px;height:9.36px;line-height:9.36px;font-size:7.8px;color:#404040;text-align:left;">98,04%</div>
<div class="t" style="left:599.90px;top:106.47px;width:400px;height:9.36px;line-height:9.36px;font-size:7.8px;color:#404040;text-align:right;">1,96%</div>
<div class="r" style="left:857.10px;top:120.90px;width:137.35px;height:7.30px;background:#d9d9d9;"></div>
<div class="r" style="left:994.45px;top:120.90px;width:10.85px;height:7.30px;background:#bdd7ee;"></div>
<div class="t" style="left:449.80px;top:120.23px;width:400px;height:9.24px;line-height:9.24px;font-size:7.7px;font-weight:bold;letter-spacing:0.005px;color:#404040;text-align:right;">SN</div>
<div class="t" style="left:861.70px;top:120.27px;width:400px;height:9.36px;line-height:9.36px;font-size:7.8px;color:#404040;text-align:left;">92,68%</div>
<div class="t" style="left:599.90px;top:120.27px;width:400px;height:9.36px;line-height:9.36px;font-size:7.8px;color:#404040;text-align:right;">7,32%</div>
<div class="r" style="left:857.10px;top:134.70px;width:114.71px;height:7.30px;background:#d9d9d9;"></div>
<div class="r" style="left:971.81px;top:134.70px;width:33.49px;height:7.30px;background:#bdd7ee;"></div>
<div class="t" style="left:449.80px;top:134.03px;width:400px;height:9.24px;line-height:9.24px;font-size:7.7px;font-weight:bold;letter-spacing:0.005px;color:#404040;text-align:right;">NE</div>
<div class="t" style="left:861.70px;top:134.07px;width:400px;height:9.36px;line-height:9.36px;font-size:7.8px;color:#404040;text-align:left;">77,40%</div>
<div class="t" style="left:599.90px;top:134.07px;width:400px;height:9.36px;line-height:9.36px;font-size:7.8px;color:#404040;text-align:right;">22,60%</div>
<div class="r" style="left:857.10px;top:148.50px;width:127.82px;height:7.30px;background:#d9d9d9;"></div>
<div class="r" style="left:984.92px;top:148.50px;width:20.38px;height:7.30px;background:#bdd7ee;"></div>
<div class="t" style="left:449.80px;top:147.83px;width:400px;height:9.24px;line-height:9.24px;font-size:7.7px;font-weight:bold;color:#404040;text-align:right;">ML</div>
<div class="t" style="left:861.70px;top:147.87px;width:400px;height:9.36px;line-height:9.36px;font-size:7.8px;color:#404040;text-align:left;">86,25%</div>
<div class="t" style="left:599.90px;top:147.87px;width:400px;height:9.36px;line-height:9.36px;font-size:7.8px;color:#404040;text-align:right;">13,75%</div>
<div class="r" style="left:857.10px;top:162.30px;width:140.03px;height:7.30px;background:#d9d9d9;"></div>
<div class="r" style="left:997.13px;top:162.30px;width:8.17px;height:7.30px;background:#bdd7ee;"></div>
<div class="t" style="left:449.80px;top:161.63px;width:400px;height:9.24px;line-height:9.24px;font-size:7.7px;font-weight:bold;color:#404040;text-align:right;">GW</div>
<div class="t" style="left:861.70px;top:161.67px;width:400px;height:9.36px;line-height:9.36px;font-size:7.8px;color:#404040;text-align:left;">94,49%</div>
<div class="t" style="left:599.90px;top:161.67px;width:400px;height:9.36px;line-height:9.36px;font-size:7.8px;color:#404040;text-align:right;">5,51%</div>
<div class="r" style="left:857.10px;top:176.10px;width:105.74px;height:7.30px;background:#d9d9d9;"></div>
<div class="r" style="left:962.84px;top:176.10px;width:42.46px;height:7.30px;background:#bdd7ee;"></div>
<div class="t" style="left:449.80px;top:175.43px;width:400px;height:9.24px;line-height:9.24px;font-size:7.7px;font-weight:bold;letter-spacing:0.006px;color:#404040;text-align:right;">CI</div>
<div class="t" style="left:861.70px;top:175.47px;width:400px;height:9.36px;line-height:9.36px;font-size:7.8px;color:#404040;text-align:left;">71,35%</div>
<div class="t" style="left:599.90px;top:175.47px;width:400px;height:9.36px;line-height:9.36px;font-size:7.8px;color:#404040;text-align:right;">28,65%</div>
<div class="r" style="left:857.10px;top:189.90px;width:112.78px;height:7.30px;background:#d9d9d9;"></div>
<div class="r" style="left:969.88px;top:189.90px;width:35.42px;height:7.30px;background:#bdd7ee;"></div>
<div class="t" style="left:449.80px;top:189.23px;width:400px;height:9.24px;line-height:9.24px;font-size:7.7px;font-weight:bold;letter-spacing:0.007px;color:#404040;text-align:right;">BF</div>
<div class="t" style="left:861.70px;top:189.27px;width:400px;height:9.36px;line-height:9.36px;font-size:7.8px;color:#404040;text-align:left;">76,10%</div>
<div class="t" style="left:599.90px;top:189.27px;width:400px;height:9.36px;line-height:9.36px;font-size:7.8px;color:#404040;text-align:right;">23,90%</div>
<div class="r" style="left:857.10px;top:203.70px;width:148.20px;height:7.30px;background:#d9d9d9;"></div>
<div class="t" style="left:449.80px;top:203.03px;width:400px;height:9.24px;line-height:9.24px;font-size:7.7px;font-weight:bold;letter-spacing:0.008px;color:#404040;text-align:right;">BJ</div>
<div class="t" style="left:861.70px;top:203.07px;width:400px;height:9.36px;line-height:9.36px;font-size:7.8px;color:#404040;text-align:left;">100,00%</div>
<div class="t" style="left:599.90px;top:203.07px;width:400px;height:9.36px;line-height:9.36px;font-size:7.8px;color:#404040;text-align:right;">0,00%</div>
<div class="r" style="left:881.80px;top:215.60px;width:2.80px;height:3.00px;background:#d9d9d9;"></div>
<div class="t" style="left:885.50px;top:212.52px;width:400px;height:9.36px;line-height:9.36px;font-size:7.8px;color:#595959;text-align:left;">Dont OAT</div>
<div class="r" style="left:928.40px;top:215.60px;width:2.80px;height:3.00px;background:#bdd7ee;"></div>
<div class="t" style="left:933.00px;top:212.52px;width:400px;height:9.36px;line-height:9.36px;font-size:7.8px;color:#595959;text-align:left;">Dont BAT</div>
<div class="r" style="left:5.10px;top:257.80px;width:399.10px;height:10.00px;background:#dbe8f5;"></div>
<div class="r" style="left:274.80px;top:270.40px;width:42.70px;height:74.80px;background:#bdd7ee;"></div>
<div class="r" style="left:360.80px;top:270.40px;width:43.40px;height:74.80px;background:#bdd7ee;"></div>
<div class="t" style="left:-103.60px;top:259.01px;width:400px;height:10.38px;line-height:10.38px;font-size:8.65px;letter-spacing:0.011px;color:#000;text-align:center;">Libellés</div>
<div class="t" style="left:9.80px;top:259.01px;width:400px;height:10.38px;line-height:10.38px;font-size:8.65px;font-weight:bold;letter-spacing:0.011px;color:#000;text-align:center;">juin-21</div>
<div class="t" style="left:53.00px;top:259.01px;width:400px;height:10.38px;line-height:10.38px;font-size:8.65px;font-weight:bold;letter-spacing:0.013px;color:#000;text-align:center;">mai-21</div>
<div class="t" style="left:96.00px;top:259.01px;width:400px;height:10.38px;line-height:10.38px;font-size:8.65px;font-weight:bold;letter-spacing:0.011px;color:#000;text-align:center;">Variation</div>
<div class="t" style="left:138.80px;top:259.01px;width:400px;height:10.38px;line-height:10.38px;font-size:8.65px;font-weight:bold;letter-spacing:0.011px;color:#000;text-align:center;">juin-20</div>
<div class="t" style="left:182.00px;top:259.01px;width:400px;height:10.38px;line-height:10.38px;font-size:8.65px;font-weight:bold;letter-spacing:0.011px;color:#000;text-align:center;">Variation</div>
<div class="r" style="left:4.50px;top:268.00px;width:399.70px;height:2.00px;background:#5a5a5a;"></div>
<div class="t" style="left:-214.80px;top:272.11px;width:400px;height:10.38px;line-height:10.38px;font-size:8.65px;letter-spacing:0.012px;color:#000;text-align:right;">Montants mobilisés (en Mds de F CFA) :</div>
<div class="t" style="left:10.00px;top:272.11px;width:400px;height:10.38px;line-height:10.38px;font-size:8.65px;letter-spacing:0.011px;color:#000;text-align:center;">575,92</div>
<div class="t" style="left:53.00px;top:272.11px;width:400px;height:10.38px;line-height:10.38px;font-size:8.65px;letter-spacing:0.011px;color:#000;text-align:center;">591,93</div>
<div class="t" style="left:96.00px;top:272.11px;width:400px;height:10.38px;line-height:10.38px;font-size:8.65px;letter-spacing:0.013px;color:#000;text-align:center;">-2,71%</div>
<div class="t" style="left:138.80px;top:272.11px;width:400px;height:10.38px;line-height:10.38px;font-size:8.65px;letter-spacing:0.011px;color:#000;text-align:center;">510,16</div>
<div class="t" style="left:182.00px;top:272.11px;width:400px;height:10.38px;line-height:10.38px;font-size:8.65px;letter-spacing:0.012px;color:#000;text-align:center;">12,89%</div>
<div class="t" style="left:-214.80px;top:284.61px;width:400px;height:10.38px;line-height:10.38px;font-size:8.65px;letter-spacing:0.011px;color:#000;text-align:right;">Dont Compte Client :</div>
<div class="t" style="left:10.00px;top:284.61px;width:400px;height:10.38px;line-height:10.38px;font-size:8.65px;letter-spacing:0.011px;color:#000;text-align:center;">17,72</div>
<div class="t" style="left:53.00px;top:284.61px;width:400px;height:10.38px;line-height:10.38px;font-size:8.65px;letter-spacing:0.010px;color:#000;text-align:center;">8,10</div>
<div class="t" style="left:96.00px;top:284.61px;width:400px;height:10.38px;line-height:10.38px;font-size:8.65px;letter-spacing:0.012px;color:#000;text-align:center;">118,80%</div>
<div class="t" style="left:138.80px;top:284.61px;width:400px;height:10.38px;line-height:10.38px;font-size:8.65px;letter-spacing:0.011px;color:#000;text-align:center;">45,63</div>
<div class="t" style="left:182.00px;top:284.61px;width:400px;height:10.38px;line-height:10.38px;font-size:8.65px;letter-spacing:0.013px;color:#000;text-align:center;">-61,18%</div>
<div class="t" style="left:-214.80px;top:297.11px;width:400px;height:10.38px;line-height:10.38px;font-size:8.65px;letter-spacing:0.012px;color:#000;text-align:right;">Durée de vie moyenne (en année) :</div>
<div class="t" style="left:10.00px;top:297.11px;width:400px;height:10.38px;line-height:10.38px;font-size:8.65px;letter-spacing:0.010px;color:#000;text-align:center;">4,56</div>
<div class="t" style="left:53.00px;top:297.11px;width:400px;height:10.38px;line-height:10.38px;font-size:8.65px;letter-spacing:0.010px;color:#000;text-align:center;">5,09</div>
<div class="t" style="left:96.00px;top:297.11px;width:400px;height:10.38px;line-height:10.38px;font-size:8.65px;letter-spacing:0.013px;color:#000;text-align:center;">-10,36%</div>
<div class="t" style="left:138.80px;top:297.11px;width:400px;height:10.38px;line-height:10.38px;font-size:8.65px;letter-spacing:0.010px;color:#000;text-align:center;">2,19</div>
<div class="t" style="left:182.00px;top:297.11px;width:400px;height:10.38px;line-height:10.38px;font-size:8.65px;letter-spacing:0.012px;color:#000;text-align:center;">108,44%</div>
<div class="t" style="left:-214.80px;top:309.61px;width:400px;height:10.38px;line-height:10.38px;font-size:8.65px;letter-spacing:0.012px;color:#000;text-align:right;">Montants Remboursés (en Mds de F CFA) :</div>
<div class="t" style="left:10.00px;top:309.61px;width:400px;height:10.38px;line-height:10.38px;font-size:8.65px;letter-spacing:0.011px;color:#000;text-align:center;">365,91</div>
<div class="t" style="left:53.00px;top:309.61px;width:400px;height:10.38px;line-height:10.38px;font-size:8.65px;letter-spacing:0.011px;color:#000;text-align:center;">107,65</div>
<div class="t" style="left:96.00px;top:309.61px;width:400px;height:10.38px;line-height:10.38px;font-size:8.65px;letter-spacing:0.012px;color:#000;text-align:center;">239,90%</div>
<div class="t" style="left:138.80px;top:309.61px;width:400px;height:10.38px;line-height:10.38px;font-size:8.65px;letter-spacing:0.011px;color:#000;text-align:center;">236,75</div>
<div class="t" style="left:182.00px;top:309.61px;width:400px;height:10.38px;line-height:10.38px;font-size:8.65px;letter-spacing:0.012px;color:#000;text-align:center;">54,55%</div>
<div class="t" style="left:-214.80px;top:322.11px;width:400px;height:10.38px;line-height:10.38px;font-size:8.65px;letter-spacing:0.011px;color:#000;text-align:right;">Nombre d'Adjudication :</div>
<div class="t" style="left:10.00px;top:322.11px;width:400px;height:10.38px;line-height:10.38px;font-size:8.65px;letter-spacing:0.014px;color:#000;text-align:center;">13</div>
<div class="t" style="left:53.00px;top:322.11px;width:400px;height:10.38px;line-height:10.38px;font-size:8.65px;letter-spacing:0.014px;color:#000;text-align:center;">12</div>
<div class="t" style="left:96.00px;top:322.11px;width:400px;height:10.38px;line-height:10.38px;font-size:8.65px;letter-spacing:0.012px;color:#000;text-align:center;">8,33%</div>
<div class="t" style="left:138.80px;top:322.11px;width:400px;height:10.38px;line-height:10.38px;font-size:8.65px;letter-spacing:0.014px;color:#000;text-align:center;">16</div>
<div class="t" style="left:182.00px;top:322.11px;width:400px;height:10.38px;line-height:10.38px;font-size:8.65px;letter-spacing:0.013px;color:#000;text-align:center;">-18,75%</div>
<div class="t" style="left:-214.80px;top:334.61px;width:400px;height:10.38px;line-height:10.38px;font-size:8.65px;letter-spacing:0.012px;color:#000;text-align:right;">Taux de Couverture Moyen :</div>
<div class="t" style="left:10.00px;top:334.61px;width:400px;height:10.38px;line-height:10.38px;font-size:8.65px;letter-spacing:0.012px;color:#000;text-align:center;">275,66%</div>
<div class="t" style="left:53.00px;top:334.61px;width:400px;height:10.38px;line-height:10.38px;font-size:8.65px;letter-spacing:0.012px;color:#000;text-align:center;">252,92%</div>
<div class="t" style="left:96.00px;top:334.61px;width:400px;height:10.38px;line-height:10.38px;font-size:8.65px;letter-spacing:0.012px;color:#000;text-align:center;">8,99%</div>
<div class="t" style="left:138.80px;top:334.61px;width:400px;height:10.38px;line-height:10.38px;font-size:8.65px;letter-spacing:0.012px;color:#000;text-align:center;">167,64%</div>
<div class="t" style="left:182.00px;top:334.61px;width:400px;height:10.38px;line-height:10.38px;font-size:8.65px;letter-spacing:0.012px;color:#000;text-align:center;">64,44%</div>
<div class="r" style="left:4.10px;top:345.00px;width:400.10px;height:2.00px;background:#555;"></div>
<div class="r" style="left:4.50px;top:365.60px;width:387.30px;height:12.00px;background:#dbe8f5;"></div>
<div class="r" style="left:235.30px;top:378.50px;width:156.50px;height:99.40px;background:#bdd7ee;"></div>
<div class="t" style="left:-161.00px;top:366.81px;width:400px;height:10.38px;line-height:10.38px;font-size:8.65px;font-weight:bold;letter-spacing:0.013px;color:#000;text-align:center;">Emetteur</div>
<div class="t" style="left:-86.20px;top:366.81px;width:400px;height:10.38px;line-height:10.38px;font-size:8.65px;font-weight:bold;letter-spacing:0.013px;color:#000;text-align:center;">Mobilisé en BAT</div>
<div class="t" style="left:-6.00px;top:366.81px;width:400px;height:10.38px;line-height:10.38px;font-size:8.65px;font-weight:bold;letter-spacing:0.012px;color:#000;text-align:center;">Mobilisé en OAT</div>
<div class="t" style="left:74.90px;top:366.81px;width:400px;height:10.38px;line-height:10.38px;font-size:8.65px;font-weight:bold;letter-spacing:0.011px;color:#000;text-align:center;">Total Mobilisé</div>
<div class="t" style="left:153.40px;top:366.81px;width:400px;height:10.38px;line-height:10.38px;font-size:8.65px;font-weight:bold;letter-spacing:0.015px;color:#000;text-align:center;">Remboursé</div>
<div class="r" style="left:4.50px;top:378.00px;width:387.30px;height:1.00px;background:#383838;"></div>
<div class="t" style="left:7.80px;top:379.91px;width:400px;height:10.38px;line-height:10.38px;font-size:8.65px;letter-spacing:0.012px;color:#000;text-align:left;">Bénin</div>
<div class="t" style="left:-6.00px;top:379.91px;width:400px;height:10.38px;line-height:10.38px;font-size:8.65px;letter-spacing:0.011px;color:#000;text-align:center;">66,00</div>
<div class="t" style="left:74.90px;top:379.91px;width:400px;height:10.38px;line-height:10.38px;font-size:8.65px;letter-spacing:0.011px;color:#000;text-align:center;">66,00</div>
<div class="t" style="left:153.40px;top:379.91px;width:400px;height:10.38px;line-height:10.38px;font-size:8.65px;letter-spacing:0.011px;color:#000;text-align:center;">44,36</div>
<div class="t" style="left:7.80px;top:392.35px;width:400px;height:10.38px;line-height:10.38px;font-size:8.65px;letter-spacing:0.011px;color:#000;text-align:left;">Burkina</div>
<div class="t" style="left:-86.20px;top:392.35px;width:400px;height:10.38px;line-height:10.38px;font-size:8.65px;letter-spacing:0.011px;color:#000;text-align:center;">32,24</div>
<div class="t" style="left:-6.00px;top:392.35px;width:400px;height:10.38px;line-height:10.38px;font-size:8.65px;letter-spacing:0.011px;color:#000;text-align:center;">76,23</div>
<div class="t" style="left:74.90px;top:392.35px;width:400px;height:10.38px;line-height:10.38px;font-size:8.65px;letter-spacing:0.011px;color:#000;text-align:center;">108,47</div>
<div class="t" style="left:153.40px;top:392.35px;width:400px;height:10.38px;line-height:10.38px;font-size:8.65px;letter-spacing:0.011px;color:#000;text-align:center;">50,20</div>
<div class="t" style="left:7.80px;top:404.79px;width:400px;height:10.38px;line-height:10.38px;font-size:8.65px;letter-spacing:0.010px;color:#000;text-align:left;">Côte d'Ivoire</div>
<div class="t" style="left:-86.20px;top:404.79px;width:400px;height:10.38px;line-height:10.38px;font-size:8.65px;letter-spacing:0.011px;color:#000;text-align:center;">70,93</div>
<div class="t" style="left:-6.00px;top:404.79px;width:400px;height:10.38px;line-height:10.38px;font-size:8.65px;letter-spacing:0.011px;color:#000;text-align:center;">155,08</div>
<div class="t" style="left:74.90px;top:404.79px;width:400px;height:10.38px;line-height:10.38px;font-size:8.65px;letter-spacing:0.011px;color:#000;text-align:center;">226,00</div>
<div class="t" style="left:153.40px;top:404.79px;width:400px;height:10.38px;line-height:10.38px;font-size:8.65px;letter-spacing:0.011px;color:#000;text-align:center;">110,79</div>
<div class="t" style="left:7.80px;top:417.23px;width:400px;height:10.38px;line-height:10.38px;font-size:8.65px;letter-spacing:0.012px;color:#000;text-align:left;">Guinée-Bissau</div>
<div class="t" style="left:-86.20px;top:417.23px;width:400px;height:10.38px;line-height:10.38px;font-size:8.65px;letter-spacing:0.011px;color:#000;text-align:center;">10,23</div>
<div class="t" style="left:74.90px;top:417.23px;width:400px;height:10.38px;line-height:10.38px;font-size:8.65px;letter-spacing:0.011px;color:#000;text-align:center;">10,23</div>
<div class="t" style="left:153.40px;top:417.23px;width:400px;height:10.38px;line-height:10.38px;font-size:8.65px;letter-spacing:0.010px;color:#000;text-align:center;">0,72</div>
<div class="t" style="left:7.80px;top:429.67px;width:400px;height:10.38px;line-height:10.38px;font-size:8.65px;letter-spacing:0.008px;color:#000;text-align:left;">Mali</div>
<div class="t" style="left:-86.20px;top:429.67px;width:400px;height:10.38px;line-height:10.38px;font-size:8.65px;letter-spacing:0.011px;color:#000;text-align:center;">25,00</div>
<div class="t" style="left:-6.00px;top:429.67px;width:400px;height:10.38px;line-height:10.38px;font-size:8.65px;letter-spacing:0.011px;color:#000;text-align:center;">69,00</div>
<div class="t" style="left:74.90px;top:429.67px;width:400px;height:10.38px;line-height:10.38px;font-size:8.65px;letter-spacing:0.011px;color:#000;text-align:center;">94,00</div>
<div class="t" style="left:153.40px;top:429.67px;width:400px;height:10.38px;line-height:10.38px;font-size:8.65px;letter-spacing:0.011px;color:#000;text-align:center;">43,01</div>
<div class="t" style="left:7.80px;top:442.11px;width:400px;height:10.38px;line-height:10.38px;font-size:8.65px;letter-spacing:0.009px;color:#000;text-align:left;">Niger</div>
<div class="t" style="left:-6.00px;top:442.11px;width:400px;height:10.38px;line-height:10.38px;font-size:8.65px;letter-spacing:0.011px;color:#000;text-align:center;">43,72</div>
<div class="t" style="left:74.90px;top:442.11px;width:400px;height:10.38px;line-height:10.38px;font-size:8.65px;letter-spacing:0.011px;color:#000;text-align:center;">43,72</div>
<div class="t" style="left:153.40px;top:442.11px;width:400px;height:10.38px;line-height:10.38px;font-size:8.65px;letter-spacing:0.011px;color:#000;text-align:center;">64,45</div>
<div class="t" style="left:7.80px;top:454.55px;width:400px;height:10.38px;line-height:10.38px;font-size:8.65px;letter-spacing:0.013px;color:#000;text-align:left;">Sénégal</div>
<div class="t" style="left:74.90px;top:454.55px;width:400px;height:10.38px;line-height:10.38px;font-size:8.65px;letter-spacing:0.010px;color:#000;text-align:center;">0,00</div>
<div class="t" style="left:153.40px;top:454.55px;width:400px;height:10.38px;line-height:10.38px;font-size:8.65px;letter-spacing:0.011px;color:#000;text-align:center;">12,68</div>
<div class="t" style="left:7.80px;top:466.99px;width:400px;height:10.38px;line-height:10.38px;font-size:8.65px;letter-spacing:0.014px;color:#000;text-align:left;">Togo</div>
<div class="t" style="left:-6.00px;top:466.99px;width:400px;height:10.38px;line-height:10.38px;font-size:8.65px;letter-spacing:0.011px;color:#000;text-align:center;">27,50</div>
<div class="t" style="left:74.90px;top:466.99px;width:400px;height:10.38px;line-height:10.38px;font-size:8.65px;letter-spacing:0.011px;color:#000;text-align:center;">27,50</div>
<div class="t" style="left:153.40px;top:466.99px;width:400px;height:10.38px;line-height:10.38px;font-size:8.65px;letter-spacing:0.011px;color:#000;text-align:center;">39,70</div>
<div class="r" style="left:4.50px;top:478.00px;width:387.30px;height:2.00px;background:#383838;"></div>
<div class="r" style="left:4.50px;top:479.20px;width:387.30px;height:10.70px;background:#bdd7ee;"></div>
<div class="r" style="left:4.50px;top:490.00px;width:387.30px;height:2.00px;background:#383838;"></div>
<div class="t" style="left:7.80px;top:479.81px;width:400px;height:10.38px;line-height:10.38px;font-size:8.65px;font-weight:bold;letter-spacing:0.011px;color:#000;text-align:left;">Total général</div>
<div class="t" style="left:-86.20px;top:479.81px;width:400px;height:10.38px;line-height:10.38px;font-size:8.65px;font-weight:bold;letter-spacing:0.011px;color:#000;text-align:center;">138,39</div>
<div class="t" style="left:-6.00px;top:479.81px;width:400px;height:10.38px;line-height:10.38px;font-size:8.65px;font-weight:bold;letter-spacing:0.011px;color:#000;text-align:center;">437,53</div>
<div class="t" style="left:74.90px;top:479.81px;width:400px;height:10.38px;line-height:10.38px;font-size:8.65px;font-weight:bold;letter-spacing:0.011px;color:#000;text-align:center;">575,92</div>
<div class="t" style="left:153.40px;top:479.81px;width:400px;height:10.38px;line-height:10.38px;font-size:8.65px;font-weight:bold;letter-spacing:0.011px;color:#000;text-align:center;">365,91</div>
<div class="r" style="left:435.10px;top:256.00px;width:575.50px;height:1.00px;background:#3a3a3a;"></div>
<div class="r" style="left:435.10px;top:274.00px;width:575.50px;height:1.00px;background:#3a3a3a;"></div>
<div class="t" style="left:265.30px;top:262.42px;width:400px;height:8.76px;line-height:8.76px;font-size:7.3px;font-weight:bold;color:#000;text-align:center;">Date d'émission</div>
<div class="t" style="left:324.55px;top:262.42px;width:400px;height:8.76px;line-height:8.76px;font-size:7.3px;font-weight:bold;color:#000;text-align:center;">Emetteur</div>
<div class="t" style="left:391.45px;top:262.42px;width:400px;height:8.76px;line-height:8.76px;font-size:7.3px;font-weight:bold;color:#000;text-align:center;">Maturité</div>
<div class="t" style="left:463.55px;top:256.80px;width:400px;height:9.00px;line-height:9.00px;font-size:7.3px;font-weight:bold;color:#000;text-align:center;">Montant Annoncé</div>
<div class="t" style="left:463.55px;top:265.80px;width:400px;height:9.00px;line-height:9.00px;font-size:7.3px;font-weight:bold;color:#000;text-align:center;">(milliards FCFA)</div>
<div class="t" style="left:532.15px;top:256.80px;width:400px;height:9.00px;line-height:9.00px;font-size:7.3px;font-weight:bold;color:#000;text-align:center;">Montant Soumis</div>
<div class="t" style="left:532.15px;top:265.80px;width:400px;height:9.00px;line-height:9.00px;font-size:7.3px;font-weight:bold;color:#000;text-align:center;">(milliards FCFA)</div>
<div class="t" style="left:600.30px;top:256.80px;width:400px;height:9.00px;line-height:9.00px;font-size:7.3px;font-weight:bold;color:#000;text-align:center;">Montant mobilisé</div>
<div class="t" style="left:600.30px;top:265.80px;width:400px;height:9.00px;line-height:9.00px;font-size:7.3px;font-weight:bold;color:#000;text-align:center;">(milliards FCFA)</div>
<div class="t" style="left:668.65px;top:256.80px;width:400px;height:9.00px;line-height:9.00px;font-size:7.3px;font-weight:bold;color:#000;text-align:center;">Taux/Rendement</div>
<div class="t" style="left:668.65px;top:265.80px;width:400px;height:9.00px;line-height:9.00px;font-size:7.3px;font-weight:bold;color:#000;text-align:center;">Moyen Pondéré</div>
<div class="t" style="left:731.20px;top:256.80px;width:400px;height:9.00px;line-height:9.00px;font-size:7.3px;font-weight:bold;color:#000;text-align:center;">Nombre de</div>
<div class="t" style="left:731.20px;top:265.80px;width:400px;height:9.00px;line-height:9.00px;font-size:7.3px;font-weight:bold;color:#000;text-align:center;">Participant</div>
<div class="t" style="left:785.35px;top:256.80px;width:400px;height:9.00px;line-height:9.00px;font-size:7.3px;font-weight:bold;color:#000;text-align:center;">Spread Rend.</div>
<div class="t" style="left:785.35px;top:265.80px;width:400px;height:9.00px;line-height:9.00px;font-size:7.3px;font-weight:bold;color:#000;text-align:center;">Marg. &amp; Min</div>
<div class="r" style="left:436.00px;top:275.40px;width:58.10px;height:7.80px;background:#bdd7ee;"></div>
<div class="r" style="left:495.10px;top:275.40px;width:58.90px;height:7.80px;background:#bdd7ee;"></div>
<div class="r" style="left:628.90px;top:275.40px;width:69.30px;height:7.80px;background:#bdd7ee;"></div>
<div class="t" style="left:265.30px;top:275.80px;width:400px;height:8.00px;line-height:8.00px;font-size:7.13px;color:#000;text-align:center;">01/06/2021</div>
<div class="t" style="left:496.20px;top:275.80px;width:400px;height:8.00px;line-height:8.00px;font-size:7.13px;color:#000;text-align:left;">Guinée-Bissau</div>
<div class="t" style="left:463.55px;top:275.80px;width:400px;height:8.00px;line-height:8.00px;font-size:7.13px;color:#000;text-align:center;">10</div>
<div class="r" style="left:436.00px;top:284.20px;width:58.10px;height:16.60px;background:#bdd7ee;"></div>
<div class="r" style="left:495.10px;top:284.20px;width:58.90px;height:16.60px;background:#bdd7ee;"></div>
<div class="r" style="left:628.90px;top:284.20px;width:69.30px;height:16.60px;background:#bdd7ee;"></div>
<div class="t" style="left:265.30px;top:289.00px;width:400px;height:8.00px;line-height:8.00px;font-size:7.13px;color:#000;text-align:center;">02/06/2021</div>
<div class="t" style="left:496.20px;top:289.00px;width:400px;height:8.00px;line-height:8.00px;font-size:7.13px;color:#000;text-align:left;">Mali</div>
<div class="t" style="left:463.55px;top:289.00px;width:400px;height:8.00px;line-height:8.00px;font-size:7.13px;color:#000;text-align:center;">40</div>
<div class="r" style="left:436.00px;top:301.80px;width:58.10px;height:25.40px;background:#bdd7ee;"></div>
<div class="r" style="left:495.10px;top:301.80px;width:58.90px;height:25.40px;background:#bdd7ee;"></div>
<div class="r" style="left:628.90px;top:301.80px;width:69.30px;height:25.40px;background:#bdd7ee;"></div>
<div class="t" style="left:265.30px;top:311.00px;width:400px;height:8.00px;line-height:8.00px;font-size:7.13px;color:#000;text-align:center;">08/06/2021</div>
<div class="t" style="left:496.20px;top:311.00px;width:400px;height:8.00px;line-height:8.00px;font-size:7.13px;color:#000;text-align:left;">Côte d'Ivoire</div>
<div class="t" style="left:463.55px;top:311.00px;width:400px;height:8.00px;line-height:8.00px;font-size:7.13px;color:#000;text-align:center;">65</div>
<div class="r" style="left:436.00px;top:328.20px;width:58.10px;height:7.80px;background:#bdd7ee;"></div>
<div class="r" style="left:495.10px;top:328.20px;width:58.90px;height:7.80px;background:#bdd7ee;"></div>
<div class="r" style="left:628.90px;top:328.20px;width:69.30px;height:7.80px;background:#bdd7ee;"></div>
<div class="t" style="left:265.30px;top:328.60px;width:400px;height:8.00px;line-height:8.00px;font-size:7.13px;color:#000;text-align:center;">09/06/2021</div>
<div class="t" style="left:496.20px;top:328.60px;width:400px;height:8.00px;line-height:8.00px;font-size:7.13px;color:#000;text-align:left;">Burkina</div>
<div class="t" style="left:463.55px;top:328.60px;width:400px;height:8.00px;line-height:8.00px;font-size:7.13px;color:#000;text-align:center;">30</div>
<div class="r" style="left:436.00px;top:337.00px;width:58.10px;height:16.60px;background:#bdd7ee;"></div>
<div class="r" style="left:495.10px;top:337.00px;width:58.90px;height:16.60px;background:#bdd7ee;"></div>
<div class="r" style="left:628.90px;top:337.00px;width:69.30px;height:16.60px;background:#bdd7ee;"></div>
<div class="t" style="left:265.30px;top:341.80px;width:400px;height:8.00px;line-height:8.00px;font-size:7.13px;color:#000;text-align:center;">10/06/2021</div>
<div class="t" style="left:496.20px;top:341.80px;width:400px;height:8.00px;line-height:8.00px;font-size:7.13px;color:#000;text-align:left;">Niger</div>
<div class="t" style="left:463.55px;top:341.80px;width:400px;height:8.00px;line-height:8.00px;font-size:7.13px;color:#000;text-align:center;">40</div>
<div class="r" style="left:436.00px;top:354.60px;width:58.10px;height:7.80px;background:#bdd7ee;"></div>
<div class="r" style="left:495.10px;top:354.60px;width:58.90px;height:7.80px;background:#bdd7ee;"></div>
<div class="r" style="left:628.90px;top:354.60px;width:69.30px;height:7.80px;background:#bdd7ee;"></div>
<div class="t" style="left:265.30px;top:355.00px;width:400px;height:8.00px;line-height:8.00px;font-size:7.13px;color:#000;text-align:center;">11/06/2021</div>
<div class="t" style="left:496.20px;top:355.00px;width:400px;height:8.00px;line-height:8.00px;font-size:7.13px;color:#000;text-align:left;">Togo</div>
<div class="t" style="left:463.55px;top:355.00px;width:400px;height:8.00px;line-height:8.00px;font-size:7.13px;color:#000;text-align:center;">25</div>
<div class="r" style="left:436.00px;top:363.40px;width:58.10px;height:16.60px;background:#bdd7ee;"></div>
<div class="r" style="left:495.10px;top:363.40px;width:58.90px;height:16.60px;background:#bdd7ee;"></div>
<div class="r" style="left:628.90px;top:363.40px;width:69.30px;height:16.60px;background:#bdd7ee;"></div>
<div class="t" style="left:265.30px;top:368.20px;width:400px;height:8.00px;line-height:8.00px;font-size:7.13px;color:#000;text-align:center;">15/06/2021</div>
<div class="t" style="left:496.20px;top:368.20px;width:400px;height:8.00px;line-height:8.00px;font-size:7.13px;color:#000;text-align:left;">Côte d'Ivoire</div>
<div class="t" style="left:463.55px;top:368.20px;width:400px;height:8.00px;line-height:8.00px;font-size:7.13px;color:#000;text-align:center;">65</div>
<div class="r" style="left:436.00px;top:381.00px;width:58.10px;height:7.80px;background:#bdd7ee;"></div>
<div class="r" style="left:495.10px;top:381.00px;width:58.90px;height:7.80px;background:#bdd7ee;"></div>
<div class="r" style="left:628.90px;top:381.00px;width:69.30px;height:7.80px;background:#bdd7ee;"></div>
<div class="t" style="left:265.30px;top:381.40px;width:400px;height:8.00px;line-height:8.00px;font-size:7.13px;color:#000;text-align:center;">16/06/2021</div>
<div class="t" style="left:496.20px;top:381.40px;width:400px;height:8.00px;line-height:8.00px;font-size:7.13px;color:#000;text-align:left;">Mali</div>
<div class="t" style="left:463.55px;top:381.40px;width:400px;height:8.00px;line-height:8.00px;font-size:7.13px;color:#000;text-align:center;">25</div>
<div class="r" style="left:436.00px;top:389.80px;width:58.10px;height:7.80px;background:#bdd7ee;"></div>
<div class="r" style="left:495.10px;top:389.80px;width:58.90px;height:7.80px;background:#bdd7ee;"></div>
<div class="r" style="left:628.90px;top:389.80px;width:69.30px;height:7.80px;background:#bdd7ee;"></div>
<div class="t" style="left:265.30px;top:390.20px;width:400px;height:8.00px;line-height:8.00px;font-size:7.13px;color:#000;text-align:center;">17/06/2021</div>
<div class="t" style="left:496.20px;top:390.20px;width:400px;height:8.00px;line-height:8.00px;font-size:7.13px;color:#000;text-align:left;">Bénin</div>
<div class="t" style="left:463.55px;top:390.20px;width:400px;height:8.00px;line-height:8.00px;font-size:7.13px;color:#000;text-align:center;">60</div>
<div class="r" style="left:436.00px;top:398.60px;width:58.10px;height:16.60px;background:#bdd7ee;"></div>
<div class="r" style="left:495.10px;top:398.60px;width:58.90px;height:16.60px;background:#bdd7ee;"></div>
<div class="r" style="left:628.90px;top:398.60px;width:69.30px;height:16.60px;background:#bdd7ee;"></div>
<div class="t" style="left:265.30px;top:403.40px;width:400px;height:8.00px;line-height:8.00px;font-size:7.13px;color:#000;text-align:center;">22/06/2021</div>
<div class="t" style="left:496.20px;top:403.40px;width:400px;height:8.00px;line-height:8.00px;font-size:7.13px;color:#000;text-align:left;">Côte d'Ivoire</div>
<div class="t" style="left:463.55px;top:403.40px;width:400px;height:8.00px;line-height:8.00px;font-size:7.13px;color:#000;text-align:center;">35</div>
<div class="r" style="left:436.00px;top:416.20px;width:58.10px;height:25.40px;background:#bdd7ee;"></div>
<div class="r" style="left:495.10px;top:416.20px;width:58.90px;height:25.40px;background:#bdd7ee;"></div>
<div class="r" style="left:628.90px;top:416.20px;width:69.30px;height:25.40px;background:#bdd7ee;"></div>
<div class="t" style="left:265.30px;top:425.40px;width:400px;height:8.00px;line-height:8.00px;font-size:7.13px;color:#000;text-align:center;">23/06/2021</div>
<div class="t" style="left:496.20px;top:425.40px;width:400px;height:8.00px;line-height:8.00px;font-size:7.13px;color:#000;text-align:left;">Burkina</div>
<div class="t" style="left:463.55px;top:425.40px;width:400px;height:8.00px;line-height:8.00px;font-size:7.13px;color:#000;text-align:center;">70</div>
<div class="r" style="left:436.00px;top:442.60px;width:58.10px;height:19.40px;background:#bdd7ee;"></div>
<div class="r" style="left:495.10px;top:442.60px;width:58.90px;height:19.40px;background:#bdd7ee;"></div>
<div class="r" style="left:628.90px;top:442.60px;width:69.30px;height:19.40px;background:#bdd7ee;"></div>
<div class="t" style="left:265.30px;top:448.80px;width:400px;height:8.00px;line-height:8.00px;font-size:7.13px;color:#000;text-align:center;">29/06/2021</div>
<div class="t" style="left:496.20px;top:448.80px;width:400px;height:8.00px;line-height:8.00px;font-size:7.13px;color:#000;text-align:left;">Côte d'Ivoire</div>
<div class="t" style="left:463.55px;top:448.80px;width:400px;height:8.00px;line-height:8.00px;font-size:7.13px;color:#000;text-align:center;">60</div>
<div class="r" style="left:436.00px;top:463.00px;width:58.10px;height:10.75px;background:#bdd7ee;"></div>
<div class="r" style="left:495.10px;top:463.00px;width:58.90px;height:10.75px;background:#bdd7ee;"></div>
<div class="r" style="left:628.90px;top:463.00px;width:69.30px;height:10.75px;background:#bdd7ee;"></div>
<div class="t" style="left:265.30px;top:464.88px;width:400px;height:8.00px;line-height:8.00px;font-size:7.13px;color:#000;text-align:center;">30/06/2021</div>
<div class="t" style="left:496.20px;top:464.88px;width:400px;height:8.00px;line-height:8.00px;font-size:7.13px;color:#000;text-align:left;">Mali</div>
<div class="t" style="left:463.55px;top:464.88px;width:400px;height:8.00px;line-height:8.00px;font-size:7.13px;color:#000;text-align:center;">25</div>
<div class="r" style="left:555.00px;top:275.40px;width:72.90px;height:7.80px;background:#bdd7ee;"></div>
<div class="r" style="left:699.20px;top:275.40px;width:65.90px;height:7.80px;background:#bdd7ee;"></div>
<div class="r" style="left:766.10px;top:275.40px;width:68.40px;height:7.80px;background:#bdd7ee;"></div>
<div class="r" style="left:835.50px;top:275.40px;width:66.30px;height:7.80px;background:#bdd7ee;"></div>
<div class="r" style="left:902.80px;top:275.40px;width:56.80px;height:7.80px;background:#bdd7ee;"></div>
<div class="r" style="left:960.60px;top:275.40px;width:50.00px;height:7.80px;background:#bdd7ee;"></div>
<div class="t" style="left:391.45px;top:275.80px;width:400px;height:8.00px;line-height:8.00px;font-size:7.13px;color:#000;text-align:center;">6 mois</div>
<div class="t" style="left:532.15px;top:275.80px;width:400px;height:8.00px;line-height:8.00px;font-size:7.13px;color:#000;text-align:center;">31,44</div>
<div class="t" style="left:600.30px;top:275.80px;width:400px;height:8.00px;line-height:8.00px;font-size:7.13px;color:#000;text-align:center;">10,23</div>
<div class="t" style="left:668.65px;top:275.80px;width:400px;height:8.00px;line-height:8.00px;font-size:7.13px;color:#000;text-align:center;">3,48%</div>
<div class="t" style="left:731.20px;top:275.80px;width:400px;height:8.00px;line-height:8.00px;font-size:7.13px;color:#000;text-align:center;">11</div>
<div class="t" style="left:785.35px;top:275.80px;width:400px;height:8.00px;line-height:8.00px;font-size:7.13px;color:#000;text-align:center;">0,24%</div>
<div class="r" style="left:555.00px;top:284.20px;width:72.90px;height:7.80px;background:#bdd7ee;"></div>
<div class="r" style="left:699.20px;top:284.20px;width:65.90px;height:7.80px;background:#bdd7ee;"></div>
<div class="r" style="left:766.10px;top:284.20px;width:68.40px;height:7.80px;background:#bdd7ee;"></div>
<div class="r" style="left:835.50px;top:284.20px;width:66.30px;height:7.80px;background:#bdd7ee;"></div>
<div class="r" style="left:902.80px;top:284.20px;width:56.80px;height:7.80px;background:#bdd7ee;"></div>
<div class="r" style="left:960.60px;top:284.20px;width:50.00px;height:7.80px;background:#bdd7ee;"></div>
<div class="t" style="left:391.45px;top:284.60px;width:400px;height:8.00px;line-height:8.00px;font-size:7.13px;color:#000;text-align:center;">7 ans</div>
<div class="t" style="left:532.15px;top:284.60px;width:400px;height:8.00px;line-height:8.00px;font-size:7.13px;color:#000;text-align:center;">87,81</div>
<div class="t" style="left:600.30px;top:284.60px;width:400px;height:8.00px;line-height:8.00px;font-size:7.13px;color:#000;text-align:center;">44,00</div>
<div class="t" style="left:668.65px;top:284.60px;width:400px;height:8.00px;line-height:8.00px;font-size:7.13px;color:#000;text-align:center;">6,02%</div>
<div class="t" style="left:731.20px;top:284.60px;width:400px;height:8.00px;line-height:8.00px;font-size:7.13px;color:#000;text-align:center;">19</div>
<div class="t" style="left:785.35px;top:284.60px;width:400px;height:8.00px;line-height:8.00px;font-size:7.13px;color:#000;text-align:center;">0,03%</div>
<div class="r" style="left:555.00px;top:293.00px;width:72.90px;height:7.80px;background:#bdd7ee;"></div>
<div class="r" style="left:699.20px;top:293.00px;width:65.90px;height:7.80px;background:#bdd7ee;"></div>
<div class="r" style="left:766.10px;top:293.00px;width:68.40px;height:7.80px;background:#bdd7ee;"></div>
<div class="r" style="left:835.50px;top:293.00px;width:66.30px;height:7.80px;background:#bdd7ee;"></div>
<div class="r" style="left:902.80px;top:293.00px;width:56.80px;height:7.80px;background:#bdd7ee;"></div>
<div class="r" style="left:960.60px;top:293.00px;width:50.00px;height:7.80px;background:#bdd7ee;"></div>
<div class="t" style="left:391.45px;top:293.40px;width:400px;height:8.00px;line-height:8.00px;font-size:7.13px;color:#000;text-align:center;">5 ans</div>
<div class="t" style="left:532.15px;top:293.40px;width:400px;height:8.00px;line-height:8.00px;font-size:7.13px;color:#000;text-align:center;">50,92</div>
<div class="t" style="left:600.30px;top:293.40px;width:400px;height:8.00px;line-height:8.00px;font-size:7.13px;color:#000;text-align:center;">0,00</div>
<div class="t" style="left:668.65px;top:293.40px;width:400px;height:8.00px;line-height:8.00px;font-size:7.13px;color:#000;text-align:center;">0,00%</div>
<div class="t" style="left:731.20px;top:293.40px;width:400px;height:8.00px;line-height:8.00px;font-size:7.13px;color:#000;text-align:center;">19</div>
<div class="t" style="left:785.35px;top:293.40px;width:400px;height:8.00px;line-height:8.00px;font-size:7.13px;color:#000;text-align:center;">NA</div>
<div class="r" style="left:555.00px;top:301.80px;width:72.90px;height:7.80px;background:#bdd7ee;"></div>
<div class="r" style="left:699.20px;top:301.80px;width:65.90px;height:7.80px;background:#bdd7ee;"></div>
<div class="r" style="left:766.10px;top:301.80px;width:68.40px;height:7.80px;background:#bdd7ee;"></div>
<div class="r" style="left:835.50px;top:301.80px;width:66.30px;height:7.80px;background:#bdd7ee;"></div>
<div class="r" style="left:902.80px;top:301.80px;width:56.80px;height:7.80px;background:#bdd7ee;"></div>
<div class="r" style="left:960.60px;top:301.80px;width:50.00px;height:7.80px;background:#bdd7ee;"></div>
<div class="t" style="left:391.45px;top:302.20px;width:400px;height:8.00px;line-height:8.00px;font-size:7.13px;color:#000;text-align:center;">10 ans</div>
<div class="t" style="left:532.15px;top:302.20px;width:400px;height:8.00px;line-height:8.00px;font-size:7.13px;color:#000;text-align:center;">35,62</div>
<div class="t" style="left:600.30px;top:302.20px;width:400px;height:8.00px;line-height:8.00px;font-size:7.13px;color:#000;text-align:center;">33,25</div>
<div class="t" style="left:668.65px;top:302.20px;width:400px;height:8.00px;line-height:8.00px;font-size:7.13px;color:#000;text-align:center;">6,05%</div>
<div class="t" style="left:731.20px;top:302.20px;width:400px;height:8.00px;line-height:8.00px;font-size:7.13px;color:#000;text-align:center;">18</div>
<div class="t" style="left:785.35px;top:302.20px;width:400px;height:8.00px;line-height:8.00px;font-size:7.13px;color:#000;text-align:center;">0,14%</div>
<div class="r" style="left:555.00px;top:310.60px;width:72.90px;height:7.80px;background:#bdd7ee;"></div>
<div class="r" style="left:699.20px;top:310.60px;width:65.90px;height:7.80px;background:#bdd7ee;"></div>
<div class="r" style="left:766.10px;top:310.60px;width:68.40px;height:7.80px;background:#bdd7ee;"></div>
<div class="r" style="left:835.50px;top:310.60px;width:66.30px;height:7.80px;background:#bdd7ee;"></div>
<div class="r" style="left:902.80px;top:310.60px;width:56.80px;height:7.80px;background:#bdd7ee;"></div>
<div class="r" style="left:960.60px;top:310.60px;width:50.00px;height:7.80px;background:#bdd7ee;"></div>
<div class="t" style="left:391.45px;top:311.00px;width:400px;height:8.00px;line-height:8.00px;font-size:7.13px;color:#000;text-align:center;">3 mois</div>
<div class="t" style="left:532.15px;top:311.00px;width:400px;height:8.00px;line-height:8.00px;font-size:7.13px;color:#000;text-align:center;">45,00</div>
<div class="t" style="left:600.30px;top:311.00px;width:400px;height:8.00px;line-height:8.00px;font-size:7.13px;color:#000;text-align:center;">0,00</div>
<div class="t" style="left:668.65px;top:311.00px;width:400px;height:8.00px;line-height:8.00px;font-size:7.13px;color:#000;text-align:center;">0,00%</div>
<div class="t" style="left:731.20px;top:311.00px;width:400px;height:8.00px;line-height:8.00px;font-size:7.13px;color:#000;text-align:center;">18</div>
<div class="t" style="left:785.35px;top:311.00px;width:400px;height:8.00px;line-height:8.00px;font-size:7.13px;color:#000;text-align:center;">NA</div>
<div class="r" style="left:555.00px;top:319.40px;width:72.90px;height:7.80px;background:#bdd7ee;"></div>
<div class="r" style="left:699.20px;top:319.40px;width:65.90px;height:7.80px;background:#bdd7ee;"></div>
<div class="r" style="left:766.10px;top:319.40px;width:68.40px;height:7.80px;background:#bdd7ee;"></div>
<div class="r" style="left:835.50px;top:319.40px;width:66.30px;height:7.80px;background:#bdd7ee;"></div>
<div class="r" style="left:902.80px;top:319.40px;width:56.80px;height:7.80px;background:#bdd7ee;"></div>
<div class="r" style="left:960.60px;top:319.40px;width:50.00px;height:7.80px;background:#bdd7ee;"></div>
<div class="t" style="left:391.45px;top:319.80px;width:400px;height:8.00px;line-height:8.00px;font-size:7.13px;color:#000;text-align:center;">5 ans</div>
<div class="t" style="left:532.15px;top:319.80px;width:400px;height:8.00px;line-height:8.00px;font-size:7.13px;color:#000;text-align:center;">66,50</div>
<div class="t" style="left:600.30px;top:319.80px;width:400px;height:8.00px;line-height:8.00px;font-size:7.13px;color:#000;text-align:center;">38,25</div>
<div class="t" style="left:668.65px;top:319.80px;width:400px;height:8.00px;line-height:8.00px;font-size:7.13px;color:#000;text-align:center;">5,68%</div>
<div class="t" style="left:731.20px;top:319.80px;width:400px;height:8.00px;line-height:8.00px;font-size:7.13px;color:#000;text-align:center;">18</div>
<div class="t" style="left:785.35px;top:319.80px;width:400px;height:8.00px;line-height:8.00px;font-size:7.13px;color:#000;text-align:center;">0,36%</div>
<div class="r" style="left:555.00px;top:328.20px;width:72.90px;height:7.80px;background:#bdd7ee;"></div>
<div class="r" style="left:699.20px;top:328.20px;width:65.90px;height:7.80px;background:#bdd7ee;"></div>
<div class="r" style="left:766.10px;top:328.20px;width:68.40px;height:7.80px;background:#bdd7ee;"></div>
<div class="r" style="left:835.50px;top:328.20px;width:66.30px;height:7.80px;background:#bdd7ee;"></div>
<div class="r" style="left:902.80px;top:328.20px;width:56.80px;height:7.80px;background:#bdd7ee;"></div>
<div class="r" style="left:960.60px;top:328.20px;width:50.00px;height:7.80px;background:#bdd7ee;"></div>
<div class="t" style="left:391.45px;top:328.60px;width:400px;height:8.00px;line-height:8.00px;font-size:7.13px;color:#000;text-align:center;">1 an</div>
<div class="t" style="left:532.15px;top:328.60px;width:400px;height:8.00px;line-height:8.00px;font-size:7.13px;color:#000;text-align:center;">90,24</div>
<div class="t" style="left:600.30px;top:328.60px;width:400px;height:8.00px;line-height:8.00px;font-size:7.13px;color:#000;text-align:center;">32,24</div>
<div class="t" style="left:668.65px;top:328.60px;width:400px;height:8.00px;line-height:8.00px;font-size:7.13px;color:#000;text-align:center;">3,80%</div>
<div class="t" style="left:731.20px;top:328.60px;width:400px;height:8.00px;line-height:8.00px;font-size:7.13px;color:#000;text-align:center;">19</div>
<div class="t" style="left:785.35px;top:328.60px;width:400px;height:8.00px;line-height:8.00px;font-size:7.13px;color:#000;text-align:center;">0,59%</div>
<div class="r" style="left:555.00px;top:337.00px;width:72.90px;height:7.80px;background:#bdd7ee;"></div>
<div class="r" style="left:699.20px;top:337.00px;width:65.90px;height:7.80px;background:#bdd7ee;"></div>
<div class="r" style="left:766.10px;top:337.00px;width:68.40px;height:7.80px;background:#bdd7ee;"></div>
<div class="r" style="left:835.50px;top:337.00px;width:66.30px;height:7.80px;background:#bdd7ee;"></div>
<div class="r" style="left:902.80px;top:337.00px;width:56.80px;height:7.80px;background:#bdd7ee;"></div>
<div class="r" style="left:960.60px;top:337.00px;width:50.00px;height:7.80px;background:#bdd7ee;"></div>
<div class="t" style="left:391.45px;top:337.40px;width:400px;height:8.00px;line-height:8.00px;font-size:7.13px;color:#000;text-align:center;">7 ans</div>
<div class="t" style="left:532.15px;top:337.40px;width:400px;height:8.00px;line-height:8.00px;font-size:7.13px;color:#000;text-align:center;">88,92</div>
<div class="t" style="left:600.30px;top:337.40px;width:400px;height:8.00px;line-height:8.00px;font-size:7.13px;color:#000;text-align:center;">32,72</div>
<div class="t" style="left:668.65px;top:337.40px;width:400px;height:8.00px;line-height:8.00px;font-size:7.13px;color:#000;text-align:center;">6,02%</div>
<div class="t" style="left:731.20px;top:337.40px;width:400px;height:8.00px;line-height:8.00px;font-size:7.13px;color:#000;text-align:center;">28</div>
<div class="t" style="left:785.35px;top:337.40px;width:400px;height:8.00px;line-height:8.00px;font-size:7.13px;color:#000;text-align:center;">0,05%</div>
<div class="r" style="left:555.00px;top:345.80px;width:72.90px;height:7.80px;background:#bdd7ee;"></div>
<div class="r" style="left:699.20px;top:345.80px;width:65.90px;height:7.80px;background:#bdd7ee;"></div>
<div class="r" style="left:766.10px;top:345.80px;width:68.40px;height:7.80px;background:#bdd7ee;"></div>
<div class="r" style="left:835.50px;top:345.80px;width:66.30px;height:7.80px;background:#bdd7ee;"></div>
<div class="r" style="left:902.80px;top:345.80px;width:56.80px;height:7.80px;background:#bdd7ee;"></div>
<div class="r" style="left:960.60px;top:345.80px;width:50.00px;height:7.80px;background:#bdd7ee;"></div>
<div class="t" style="left:391.45px;top:346.20px;width:400px;height:8.00px;line-height:8.00px;font-size:7.13px;color:#000;text-align:center;">3 ans</div>
<div class="t" style="left:532.15px;top:346.20px;width:400px;height:8.00px;line-height:8.00px;font-size:7.13px;color:#000;text-align:center;">64,24</div>
<div class="t" style="left:600.30px;top:346.20px;width:400px;height:8.00px;line-height:8.00px;font-size:7.13px;color:#000;text-align:center;">11,00</div>
<div class="t" style="left:668.65px;top:346.20px;width:400px;height:8.00px;line-height:8.00px;font-size:7.13px;color:#000;text-align:center;">5,19%</div>
<div class="t" style="left:731.20px;top:346.20px;width:400px;height:8.00px;line-height:8.00px;font-size:7.13px;color:#000;text-align:center;">28</div>
<div class="t" style="left:785.35px;top:346.20px;width:400px;height:8.00px;line-height:8.00px;font-size:7.13px;color:#000;text-align:center;">0,00%</div>
<div class="r" style="left:555.00px;top:354.60px;width:72.90px;height:7.80px;background:#bdd7ee;"></div>
<div class="r" style="left:699.20px;top:354.60px;width:65.90px;height:7.80px;background:#bdd7ee;"></div>
<div class="r" style="left:766.10px;top:354.60px;width:68.40px;height:7.80px;background:#bdd7ee;"></div>
<div class="r" style="left:835.50px;top:354.60px;width:66.30px;height:7.80px;background:#bdd7ee;"></div>
<div class="r" style="left:902.80px;top:354.60px;width:56.80px;height:7.80px;background:#bdd7ee;"></div>
<div class="r" style="left:960.60px;top:354.60px;width:50.00px;height:7.80px;background:#bdd7ee;"></div>
<div class="t" style="left:391.45px;top:355.00px;width:400px;height:8.00px;line-height:8.00px;font-size:7.13px;color:#000;text-align:center;">7 ans</div>
<div class="t" style="left:532.15px;top:355.00px;width:400px;height:8.00px;line-height:8.00px;font-size:7.13px;color:#000;text-align:center;">61,36</div>
<div class="t" style="left:600.30px;top:355.00px;width:400px;height:8.00px;line-height:8.00px;font-size:7.13px;color:#000;text-align:center;">27,50</div>
<div class="t" style="left:668.65px;top:355.00px;width:400px;height:8.00px;line-height:8.00px;font-size:7.13px;color:#000;text-align:center;">5,90%</div>
<div class="t" style="left:731.20px;top:355.00px;width:400px;height:8.00px;line-height:8.00px;font-size:7.13px;color:#000;text-align:center;">13</div>
<div class="t" style="left:785.35px;top:355.00px;width:400px;height:8.00px;line-height:8.00px;font-size:7.13px;color:#000;text-align:center;">0,22%</div>
<div class="r" style="left:555.00px;top:363.40px;width:72.90px;height:7.80px;background:#bdd7ee;"></div>
<div class="r" style="left:699.20px;top:363.40px;width:65.90px;height:7.80px;background:#bdd7ee;"></div>
<div class="r" style="left:766.10px;top:363.40px;width:68.40px;height:7.80px;background:#bdd7ee;"></div>
<div class="r" style="left:835.50px;top:363.40px;width:66.30px;height:7.80px;background:#bdd7ee;"></div>
<div class="r" style="left:902.80px;top:363.40px;width:56.80px;height:7.80px;background:#bdd7ee;"></div>
<div class="r" style="left:960.60px;top:363.40px;width:50.00px;height:7.80px;background:#bdd7ee;"></div>
<div class="t" style="left:391.45px;top:363.80px;width:400px;height:8.00px;line-height:8.00px;font-size:7.13px;color:#000;text-align:center;">3 ans</div>
<div class="t" style="left:532.15px;top:363.80px;width:400px;height:8.00px;line-height:8.00px;font-size:7.13px;color:#000;text-align:center;">83,06</div>
<div class="t" style="left:600.30px;top:363.80px;width:400px;height:8.00px;line-height:8.00px;font-size:7.13px;color:#000;text-align:center;">45,08</div>
<div class="t" style="left:668.65px;top:363.80px;width:400px;height:8.00px;line-height:8.00px;font-size:7.13px;color:#000;text-align:center;">5,56%</div>
<div class="t" style="left:731.20px;top:363.80px;width:400px;height:8.00px;line-height:8.00px;font-size:7.13px;color:#000;text-align:center;">20</div>
<div class="t" style="left:785.35px;top:363.80px;width:400px;height:8.00px;line-height:8.00px;font-size:7.13px;color:#000;text-align:center;">0,12%</div>
<div class="r" style="left:555.00px;top:372.20px;width:72.90px;height:7.80px;background:#bdd7ee;"></div>
<div class="r" style="left:699.20px;top:372.20px;width:65.90px;height:7.80px;background:#bdd7ee;"></div>
<div class="r" style="left:766.10px;top:372.20px;width:68.40px;height:7.80px;background:#bdd7ee;"></div>
<div class="r" style="left:835.50px;top:372.20px;width:66.30px;height:7.80px;background:#bdd7ee;"></div>
<div class="r" style="left:902.80px;top:372.20px;width:56.80px;height:7.80px;background:#bdd7ee;"></div>
<div class="r" style="left:960.60px;top:372.20px;width:50.00px;height:7.80px;background:#bdd7ee;"></div>
<div class="t" style="left:391.45px;top:372.60px;width:400px;height:8.00px;line-height:8.00px;font-size:7.13px;color:#000;text-align:center;">6 mois</div>
<div class="t" style="left:532.15px;top:372.60px;width:400px;height:8.00px;line-height:8.00px;font-size:7.13px;color:#000;text-align:center;">70,50</div>
<div class="t" style="left:600.30px;top:372.60px;width:400px;height:8.00px;line-height:8.00px;font-size:7.13px;color:#000;text-align:center;">19,93</div>
<div class="t" style="left:668.65px;top:372.60px;width:400px;height:8.00px;line-height:8.00px;font-size:7.13px;color:#000;text-align:center;">2,56%</div>
<div class="t" style="left:731.20px;top:372.60px;width:400px;height:8.00px;line-height:8.00px;font-size:7.13px;color:#000;text-align:center;">20</div>
<div class="t" style="left:785.35px;top:372.60px;width:400px;height:8.00px;line-height:8.00px;font-size:7.13px;color:#000;text-align:center;">0,16%</div>
<div class="r" style="left:555.00px;top:381.00px;width:72.90px;height:7.80px;background:#bdd7ee;"></div>
<div class="r" style="left:699.20px;top:381.00px;width:65.90px;height:7.80px;background:#bdd7ee;"></div>
<div class="r" style="left:766.10px;top:381.00px;width:68.40px;height:7.80px;background:#bdd7ee;"></div>
<div class="r" style="left:835.50px;top:381.00px;width:66.30px;height:7.80px;background:#bdd7ee;"></div>
<div class="r" style="left:902.80px;top:381.00px;width:56.80px;height:7.80px;background:#bdd7ee;"></div>
<div class="r" style="left:960.60px;top:381.00px;width:50.00px;height:7.80px;background:#bdd7ee;"></div>
<div class="t" style="left:391.45px;top:381.40px;width:400px;height:8.00px;line-height:8.00px;font-size:7.13px;color:#000;text-align:center;">1 an</div>
<div class="t" style="left:532.15px;top:381.40px;width:400px;height:8.00px;line-height:8.00px;font-size:7.13px;color:#000;text-align:center;">46,31</div>
<div class="t" style="left:600.30px;top:381.40px;width:400px;height:8.00px;line-height:8.00px;font-size:7.13px;color:#000;text-align:center;">25,00</div>
<div class="t" style="left:668.65px;top:381.40px;width:400px;height:8.00px;line-height:8.00px;font-size:7.13px;color:#000;text-align:center;">3,82%</div>
<div class="t" style="left:731.20px;top:381.40px;width:400px;height:8.00px;line-height:8.00px;font-size:7.13px;color:#000;text-align:center;">11</div>
<div class="t" style="left:785.35px;top:381.40px;width:400px;height:8.00px;line-height:8.00px;font-size:7.13px;color:#000;text-align:center;">0,28%</div>
<div class="r" style="left:555.00px;top:389.80px;width:72.90px;height:7.80px;background:#bdd7ee;"></div>
<div class="r" style="left:699.20px;top:389.80px;width:65.90px;height:7.80px;background:#bdd7ee;"></div>
<div class="r" style="left:766.10px;top:389.80px;width:68.40px;height:7.80px;background:#bdd7ee;"></div>
<div class="r" style="left:835.50px;top:389.80px;width:66.30px;height:7.80px;background:#bdd7ee;"></div>
<div class="r" style="left:902.80px;top:389.80px;width:56.80px;height:7.80px;background:#bdd7ee;"></div>
<div class="r" style="left:960.60px;top:389.80px;width:50.00px;height:7.80px;background:#bdd7ee;"></div>
<div class="t" style="left:391.45px;top:390.20px;width:400px;height:8.00px;line-height:8.00px;font-size:7.13px;color:#000;text-align:center;">3 ans</div>
<div class="t" style="left:532.15px;top:390.20px;width:400px;height:8.00px;line-height:8.00px;font-size:7.13px;color:#000;text-align:center;">182,64</div>
<div class="t" style="left:600.30px;top:390.20px;width:400px;height:8.00px;line-height:8.00px;font-size:7.13px;color:#000;text-align:center;">66,00</div>
<div class="t" style="left:668.65px;top:390.20px;width:400px;height:8.00px;line-height:8.00px;font-size:7.13px;color:#000;text-align:center;">4,96%</div>
<div class="t" style="left:731.20px;top:390.20px;width:400px;height:8.00px;line-height:8.00px;font-size:7.13px;color:#000;text-align:center;">30</div>
<div class="t" style="left:785.35px;top:390.20px;width:400px;height:8.00px;line-height:8.00px;font-size:7.13px;color:#000;text-align:center;">0,09%</div>
<div class="r" style="left:555.00px;top:398.60px;width:72.90px;height:7.80px;background:#bdd7ee;"></div>
<div class="r" style="left:699.20px;top:398.60px;width:65.90px;height:7.80px;background:#bdd7ee;"></div>
<div class="r" style="left:766.10px;top:398.60px;width:68.40px;height:7.80px;background:#bdd7ee;"></div>
<div class="r" style="left:835.50px;top:398.60px;width:66.30px;height:7.80px;background:#bdd7ee;"></div>
<div class="r" style="left:902.80px;top:398.60px;width:56.80px;height:7.80px;background:#bdd7ee;"></div>
<div class="r" style="left:960.60px;top:398.60px;width:50.00px;height:7.80px;background:#bdd7ee;"></div>
<div class="t" style="left:391.45px;top:399.00px;width:400px;height:8.00px;line-height:8.00px;font-size:7.13px;color:#000;text-align:center;">5 ans</div>
<div class="t" style="left:532.15px;top:399.00px;width:400px;height:8.00px;line-height:8.00px;font-size:7.13px;color:#000;text-align:center;">36,50</div>
<div class="t" style="left:600.30px;top:399.00px;width:400px;height:8.00px;line-height:8.00px;font-size:7.13px;color:#000;text-align:center;">27,20</div>
<div class="t" style="left:668.65px;top:399.00px;width:400px;height:8.00px;line-height:8.00px;font-size:7.13px;color:#000;text-align:center;">5,77%</div>
<div class="t" style="left:731.20px;top:399.00px;width:400px;height:8.00px;line-height:8.00px;font-size:7.13px;color:#000;text-align:center;">7</div>
<div class="t" style="left:785.35px;top:399.00px;width:400px;height:8.00px;line-height:8.00px;font-size:7.13px;color:#000;text-align:center;">0,16%</div>
<div class="r" style="left:555.00px;top:407.40px;width:72.90px;height:7.80px;background:#bdd7ee;"></div>
<div class="r" style="left:699.20px;top:407.40px;width:65.90px;height:7.80px;background:#bdd7ee;"></div>
<div class="r" style="left:766.10px;top:407.40px;width:68.40px;height:7.80px;background:#bdd7ee;"></div>
<div class="r" style="left:835.50px;top:407.40px;width:66.30px;height:7.80px;background:#bdd7ee;"></div>
<div class="r" style="left:902.80px;top:407.40px;width:56.80px;height:7.80px;background:#bdd7ee;"></div>
<div class="r" style="left:960.60px;top:407.40px;width:50.00px;height:7.80px;background:#bdd7ee;"></div>
<div class="t" style="left:391.45px;top:407.80px;width:400px;height:8.00px;line-height:8.00px;font-size:7.13px;color:#000;text-align:center;">12 ans</div>
<div class="t" style="left:532.15px;top:407.80px;width:400px;height:8.00px;line-height:8.00px;font-size:7.13px;color:#000;text-align:center;">11,80</div>
<div class="t" style="left:600.30px;top:407.80px;width:400px;height:8.00px;line-height:8.00px;font-size:7.13px;color:#000;text-align:center;">11,30</div>
<div class="t" style="left:668.65px;top:407.80px;width:400px;height:8.00px;line-height:8.00px;font-size:7.13px;color:#000;text-align:center;">6,11%</div>
<div class="t" style="left:731.20px;top:407.80px;width:400px;height:8.00px;line-height:8.00px;font-size:7.13px;color:#000;text-align:center;">7</div>
<div class="t" style="left:785.35px;top:407.80px;width:400px;height:8.00px;line-height:8.00px;font-size:7.13px;color:#000;text-align:center;">0,02%</div>
<div class="r" style="left:555.00px;top:416.20px;width:72.90px;height:7.80px;background:#bdd7ee;"></div>
<div class="r" style="left:699.20px;top:416.20px;width:65.90px;height:7.80px;background:#bdd7ee;"></div>
<div class="r" style="left:766.10px;top:416.20px;width:68.40px;height:7.80px;background:#bdd7ee;"></div>
<div class="r" style="left:835.50px;top:416.20px;width:66.30px;height:7.80px;background:#bdd7ee;"></div>
<div class="r" style="left:902.80px;top:416.20px;width:56.80px;height:7.80px;background:#bdd7ee;"></div>
<div class="r" style="left:960.60px;top:416.20px;width:50.00px;height:7.80px;background:#bdd7ee;"></div>
<div class="t" style="left:391.45px;top:416.60px;width:400px;height:8.00px;line-height:8.00px;font-size:7.13px;color:#000;text-align:center;">3 ans</div>
<div class="t" style="left:532.15px;top:416.60px;width:400px;height:8.00px;line-height:8.00px;font-size:7.13px;color:#000;text-align:center;">45,61</div>
<div class="t" style="left:600.30px;top:416.60px;width:400px;height:8.00px;line-height:8.00px;font-size:7.13px;color:#000;text-align:center;">10,51</div>
<div class="t" style="left:668.65px;top:416.60px;width:400px;height:8.00px;line-height:8.00px;font-size:7.13px;color:#000;text-align:center;">5,11%</div>
<div class="t" style="left:731.20px;top:416.60px;width:400px;height:8.00px;line-height:8.00px;font-size:7.13px;color:#000;text-align:center;">39</div>
<div class="t" style="left:785.35px;top:416.60px;width:400px;height:8.00px;line-height:8.00px;font-size:7.13px;color:#000;text-align:center;">3,14%</div>
<div class="r" style="left:555.00px;top:425.00px;width:72.90px;height:7.80px;background:#bdd7ee;"></div>
<div class="r" style="left:699.20px;top:425.00px;width:65.90px;height:7.80px;background:#bdd7ee;"></div>
<div class="r" style="left:766.10px;top:425.00px;width:68.40px;height:7.80px;background:#bdd7ee;"></div>
<div class="r" style="left:835.50px;top:425.00px;width:66.30px;height:7.80px;background:#bdd7ee;"></div>
<div class="r" style="left:902.80px;top:425.00px;width:56.80px;height:7.80px;background:#bdd7ee;"></div>
<div class="r" style="left:960.60px;top:425.00px;width:50.00px;height:7.80px;background:#bdd7ee;"></div>
<div class="t" style="left:391.45px;top:425.40px;width:400px;height:8.00px;line-height:8.00px;font-size:7.13px;color:#000;text-align:center;">5 ans</div>
<div class="t" style="left:532.15px;top:425.40px;width:400px;height:8.00px;line-height:8.00px;font-size:7.13px;color:#000;text-align:center;">21,13</div>
<div class="t" style="left:600.30px;top:425.40px;width:400px;height:8.00px;line-height:8.00px;font-size:7.13px;color:#000;text-align:center;">11,41</div>
<div class="t" style="left:668.65px;top:425.40px;width:400px;height:8.00px;line-height:8.00px;font-size:7.13px;color:#000;text-align:center;">5,63%</div>
<div class="t" style="left:731.20px;top:425.40px;width:400px;height:8.00px;line-height:8.00px;font-size:7.13px;color:#000;text-align:center;">39</div>
<div class="t" style="left:785.35px;top:425.40px;width:400px;height:8.00px;line-height:8.00px;font-size:7.13px;color:#000;text-align:center;">0,18%</div>
<div class="r" style="left:555.00px;top:433.80px;width:72.90px;height:7.80px;background:#bdd7ee;"></div>
<div class="r" style="left:699.20px;top:433.80px;width:65.90px;height:7.80px;background:#bdd7ee;"></div>
<div class="r" style="left:766.10px;top:433.80px;width:68.40px;height:7.80px;background:#bdd7ee;"></div>
<div class="r" style="left:835.50px;top:433.80px;width:66.30px;height:7.80px;background:#bdd7ee;"></div>
<div class="r" style="left:902.80px;top:433.80px;width:56.80px;height:7.80px;background:#bdd7ee;"></div>
<div class="r" style="left:960.60px;top:433.80px;width:50.00px;height:7.80px;background:#bdd7ee;"></div>
<div class="t" style="left:391.45px;top:434.20px;width:400px;height:8.00px;line-height:8.00px;font-size:7.13px;color:#000;text-align:center;">7 ans</div>
<div class="t" style="left:532.15px;top:434.20px;width:400px;height:8.00px;line-height:8.00px;font-size:7.13px;color:#000;text-align:center;">93,30</div>
<div class="t" style="left:600.30px;top:434.20px;width:400px;height:8.00px;line-height:8.00px;font-size:7.13px;color:#000;text-align:center;">54,31</div>
<div class="t" style="left:668.65px;top:434.20px;width:400px;height:8.00px;line-height:8.00px;font-size:7.13px;color:#000;text-align:center;">5,99%</div>
<div class="t" style="left:731.20px;top:434.20px;width:400px;height:8.00px;line-height:8.00px;font-size:7.13px;color:#000;text-align:center;">39</div>
<div class="t" style="left:785.35px;top:434.20px;width:400px;height:8.00px;line-height:8.00px;font-size:7.13px;color:#000;text-align:center;">0,05%</div>
<div class="r" style="left:555.00px;top:442.60px;width:72.90px;height:7.65px;background:#bdd7ee;"></div>
<div class="r" style="left:699.20px;top:442.60px;width:65.90px;height:7.65px;background:#bdd7ee;"></div>
<div class="r" style="left:766.10px;top:442.60px;width:68.40px;height:7.65px;background:#bdd7ee;"></div>
<div class="r" style="left:835.50px;top:442.60px;width:66.30px;height:7.65px;background:#bdd7ee;"></div>
<div class="r" style="left:902.80px;top:442.60px;width:56.80px;height:7.65px;background:#bdd7ee;"></div>
<div class="r" style="left:960.60px;top:442.60px;width:50.00px;height:7.65px;background:#bdd7ee;"></div>
<div class="t" style="left:391.45px;top:442.93px;width:400px;height:8.00px;line-height:8.00px;font-size:7.13px;color:#000;text-align:center;">3 mois</div>
<div class="t" style="left:532.15px;top:442.93px;width:400px;height:8.00px;line-height:8.00px;font-size:7.13px;color:#000;text-align:center;">26,00</div>
<div class="t" style="left:600.30px;top:442.93px;width:400px;height:8.00px;line-height:8.00px;font-size:7.13px;color:#000;text-align:center;">24,00</div>
<div class="t" style="left:668.65px;top:442.93px;width:400px;height:8.00px;line-height:8.00px;font-size:7.13px;color:#000;text-align:center;">2,53%</div>
<div class="t" style="left:731.20px;top:442.93px;width:400px;height:8.00px;line-height:8.00px;font-size:7.13px;color:#000;text-align:center;">8</div>
<div class="t" style="left:785.35px;top:442.93px;width:400px;height:8.00px;line-height:8.00px;font-size:7.13px;color:#000;text-align:center;">0,11%</div>
<div class="r" style="left:555.00px;top:451.25px;width:72.90px;height:10.75px;background:#bdd7ee;"></div>
<div class="r" style="left:699.20px;top:451.25px;width:65.90px;height:10.75px;background:#bdd7ee;"></div>
<div class="r" style="left:766.10px;top:451.25px;width:68.40px;height:10.75px;background:#bdd7ee;"></div>
<div class="r" style="left:835.50px;top:451.25px;width:66.30px;height:10.75px;background:#bdd7ee;"></div>
<div class="r" style="left:902.80px;top:451.25px;width:56.80px;height:10.75px;background:#bdd7ee;"></div>
<div class="r" style="left:960.60px;top:451.25px;width:50.00px;height:10.75px;background:#bdd7ee;"></div>
<div class="t" style="left:391.45px;top:453.12px;width:400px;height:8.00px;line-height:8.00px;font-size:7.13px;color:#000;text-align:center;">6 mois</div>
<div class="t" style="left:532.15px;top:453.12px;width:400px;height:8.00px;line-height:8.00px;font-size:7.13px;color:#000;text-align:center;">43,50</div>
<div class="t" style="left:600.30px;top:453.12px;width:400px;height:8.00px;line-height:8.00px;font-size:7.13px;color:#000;text-align:center;">27,00</div>
<div class="t" style="left:668.65px;top:453.12px;width:400px;height:8.00px;line-height:8.00px;font-size:7.13px;color:#000;text-align:center;">2,58%</div>
<div class="t" style="left:731.20px;top:453.12px;width:400px;height:8.00px;line-height:8.00px;font-size:7.13px;color:#000;text-align:center;">8</div>
<div class="t" style="left:785.35px;top:453.12px;width:400px;height:8.00px;line-height:8.00px;font-size:7.13px;color:#000;text-align:center;">0,12%</div>
<div class="r" style="left:555.00px;top:463.00px;width:72.90px;height:10.75px;background:#bdd7ee;"></div>
<div class="r" style="left:699.20px;top:463.00px;width:65.90px;height:10.75px;background:#bdd7ee;"></div>
<div class="r" style="left:766.10px;top:463.00px;width:68.40px;height:10.75px;background:#bdd7ee;"></div>
<div class="r" style="left:835.50px;top:463.00px;width:66.30px;height:10.75px;background:#bdd7ee;"></div>
<div class="r" style="left:902.80px;top:463.00px;width:56.80px;height:10.75px;background:#bdd7ee;"></div>
<div class="r" style="left:960.60px;top:463.00px;width:50.00px;height:10.75px;background:#bdd7ee;"></div>
<div class="t" style="left:391.45px;top:464.88px;width:400px;height:8.00px;line-height:8.00px;font-size:7.13px;color:#000;text-align:center;">7 ans</div>
<div class="t" style="left:532.15px;top:464.88px;width:400px;height:8.00px;line-height:8.00px;font-size:7.13px;color:#000;text-align:center;">42,37</div>
<div class="t" style="left:600.30px;top:464.88px;width:400px;height:8.00px;line-height:8.00px;font-size:7.13px;color:#000;text-align:center;">25,00</div>
<div class="t" style="left:668.65px;top:464.88px;width:400px;height:8.00px;line-height:8.00px;font-size:7.13px;color:#000;text-align:center;">6,00%</div>
<div class="t" style="left:731.20px;top:464.88px;width:400px;height:8.00px;line-height:8.00px;font-size:7.13px;color:#000;text-align:center;">16</div>
<div class="t" style="left:785.35px;top:464.88px;width:400px;height:8.00px;line-height:8.00px;font-size:7.13px;color:#000;text-align:center;">0,07%</div>
<div class="t" style="left:287.40px;top:494.02px;width:400px;height:11.35px;line-height:11.35px;font-size:9.46px;color:#111;text-align:center;">Bénin</div>
<div class="t" style="left:411.25px;top:503.50px;width:400px;height:5.00px;line-height:5.00px;font-size:4.94px;-webkit-text-stroke:0.08px currentColor;color:#111;text-align:left;">8,50%</div>
<div class="r" style="left:429.60px;top:505.00px;width:127.30px;height:8.00px;background:#d9d9d9;border:1.2px solid #9a9a9a;box-sizing:border-box"></div>
<div class="t" style="left:513.80px;top:531.80px;width:30px;height:7px;line-height:7px;font-size:6.2px;font-weight:bold;color:#1a1a1a;text-align:right;-webkit-text-stroke:0.05px currentColor;transform-origin:0 0;transform:rotate(-90deg);text-shadow:0 0 1px #fff,0 0 1px #fff">5,68%</div>
<div class="t" style="left:529.60px;top:529.40px;width:30px;height:7px;line-height:7px;font-size:6.2px;font-weight:bold;color:#1a1a1a;text-align:right;-webkit-text-stroke:0.05px currentColor;transform-origin:0 0;transform:rotate(-90deg);text-shadow:0 0 1px #fff,0 0 1px #fff">6,40%</div>
<div class="t" style="left:545.70px;top:525.00px;width:30px;height:7px;line-height:7px;font-size:6.2px;font-weight:bold;color:#1a1a1a;text-align:right;-webkit-text-stroke:0.05px currentColor;transform-origin:0 0;transform:rotate(-90deg);text-shadow:0 0 1px #fff,0 0 1px #fff">6,82%</div>
<div class="t" style="left:442.80px;top:495.02px;width:400px;height:11.16px;line-height:11.16px;font-size:9.3px;color:#111;text-align:center;">Burkina</div>
<div class="t" style="left:565.50px;top:503.50px;width:400px;height:5.00px;line-height:5.00px;font-size:4.94px;-webkit-text-stroke:0.08px currentColor;color:#111;text-align:left;">8,50%</div>
<div class="r" style="left:584.20px;top:505.00px;width:127.40px;height:8.00px;background:#d9d9d9;border:1.2px solid #9a9a9a;box-sizing:border-box"></div>
<div class="t" style="left:668.80px;top:534.50px;width:30px;height:7px;line-height:7px;font-size:6.2px;font-weight:bold;color:#1a1a1a;text-align:right;-webkit-text-stroke:0.05px currentColor;transform-origin:0 0;transform:rotate(-90deg);text-shadow:0 0 1px #fff,0 0 1px #fff">5,6%</div>
<div class="t" style="left:684.50px;top:532.50px;width:30px;height:7px;line-height:7px;font-size:6.2px;font-weight:bold;color:#1a1a1a;text-align:right;-webkit-text-stroke:0.05px currentColor;transform-origin:0 0;transform:rotate(-90deg);text-shadow:0 0 1px #fff,0 0 1px #fff">6,27%</div>
<div class="t" style="left:700.30px;top:529.00px;width:30px;height:7px;line-height:7px;font-size:6.2px;font-weight:bold;color:#1a1a1a;text-align:right;-webkit-text-stroke:0.05px currentColor;transform-origin:0 0;transform:rotate(-90deg);text-shadow:0 0 1px #fff,0 0 1px #fff">6,11%</div>
<div class="t" style="left:593.90px;top:494.40px;width:400px;height:11.21px;line-height:11.21px;font-size:9.34px;letter-spacing:0.005px;color:#111;text-align:center;">Côte d'ivoire</div>
<div class="t" style="left:719.70px;top:503.50px;width:400px;height:5.00px;line-height:5.00px;font-size:4.94px;-webkit-text-stroke:0.08px currentColor;color:#111;text-align:left;">8,50%</div>
<div class="r" style="left:738.10px;top:505.00px;width:127.20px;height:8.00px;background:#d9d9d9;border:1.2px solid #9a9a9a;box-sizing:border-box"></div>
<div class="t" style="left:796.80px;top:534.50px;width:30px;height:7px;line-height:7px;font-size:6.2px;font-weight:bold;color:#1a1a1a;text-align:right;-webkit-text-stroke:0.05px currentColor;transform-origin:0 0;transform:rotate(-90deg);text-shadow:0 0 1px #fff,0 0 1px #fff">5,0%</div>
<div class="t" style="left:811.70px;top:533.00px;width:30px;height:7px;line-height:7px;font-size:6.2px;font-weight:bold;color:#1a1a1a;text-align:right;-webkit-text-stroke:0.05px currentColor;transform-origin:0 0;transform:rotate(-90deg);text-shadow:0 0 1px #fff,0 0 1px #fff">5,4%</div>
<div class="t" style="left:826.50px;top:532.00px;width:30px;height:7px;line-height:7px;font-size:6.2px;font-weight:bold;color:#1a1a1a;text-align:right;-webkit-text-stroke:0.05px currentColor;transform-origin:0 0;transform:rotate(-90deg);text-shadow:0 0 1px #fff,0 0 1px #fff">5,63%</div>
<div class="t" style="left:841.30px;top:532.00px;width:30px;height:7px;line-height:7px;font-size:6.2px;font-weight:bold;color:#1a1a1a;text-align:right;-webkit-text-stroke:0.05px currentColor;transform-origin:0 0;transform:rotate(-90deg);text-shadow:0 0 1px #fff,0 0 1px #fff">5,55%</div>
<div class="t" style="left:856.00px;top:531.50px;width:30px;height:7px;line-height:7px;font-size:6.2px;font-weight:bold;color:#1a1a1a;text-align:right;-webkit-text-stroke:0.05px currentColor;transform-origin:0 0;transform:rotate(-90deg);text-shadow:0 0 1px #fff,0 0 1px #fff">5,11%</div>
<div class="t" style="left:754.30px;top:494.31px;width:400px;height:11.38px;line-height:11.38px;font-size:9.48px;letter-spacing:0.006px;color:#111;text-align:center;">Guinée-Bissau</div>
<div class="t" style="left:874.20px;top:503.50px;width:400px;height:5.00px;line-height:5.00px;font-size:4.94px;-webkit-text-stroke:0.08px currentColor;color:#111;text-align:left;">8,50%</div>
<div class="r" style="left:892.40px;top:505.00px;width:127.90px;height:8.00px;background:#d9d9d9;border:1.2px solid #9a9a9a;box-sizing:border-box"></div>
<div class="t" style="left:954.10px;top:534.00px;width:30px;height:7px;line-height:7px;font-size:6.2px;font-weight:bold;color:#1a1a1a;text-align:right;-webkit-text-stroke:0.05px currentColor;transform-origin:0 0;transform:rotate(-90deg);text-shadow:0 0 1px #fff,0 0 1px #fff">5,4%</div>
<div class="t" style="left:970.30px;top:533.00px;width:30px;height:7px;line-height:7px;font-size:6.2px;font-weight:bold;color:#1a1a1a;text-align:right;-webkit-text-stroke:0.05px currentColor;transform-origin:0 0;transform:rotate(-90deg);text-shadow:0 0 1px #fff,0 0 1px #fff">5,6%</div>
<div class="t" style="left:987.80px;top:533.00px;width:30px;height:7px;line-height:7px;font-size:6.2px;font-weight:bold;color:#1a1a1a;text-align:right;-webkit-text-stroke:0.05px currentColor;transform-origin:0 0;transform:rotate(-90deg);text-shadow:0 0 1px #fff,0 0 1px #fff">5,71%</div>
<div class="t" style="left:1008.50px;top:530.00px;width:30px;height:7px;line-height:7px;font-size:6.2px;font-weight:bold;color:#1a1a1a;text-align:right;-webkit-text-stroke:0.05px currentColor;transform-origin:0 0;transform:rotate(-90deg);text-shadow:0 0 1px #fff,0 0 1px #fff">5,90%</div>
<div class="r" style="left:469.30px;top:510.40px;width:2.30px;height:1.60px;background:#333;"></div>
<div class="r" style="left:485.30px;top:510.20px;width:2.30px;height:1.80px;background:#333;"></div>
<svg width="1024" height="512" style="position:absolute;left:0;top:0">
<defs><radialGradient id="lg1" cx="0.55" cy="0.45" r="0.6"><stop offset="0" stop-color="#63b0ea"/><stop offset="0.7" stop-color="#3a8bd6"/><stop offset="1" stop-color="#2a74c4"/></radialGradient>
<radialGradient id="lg2" cx="0.5" cy="0.5" r="0.6"><stop offset="0" stop-color="#ffffff"/><stop offset="1" stop-color="#e2ebf3"/></radialGradient></defs>
<ellipse cx="993" cy="34.6" rx="28" ry="1.5" fill="#d5d5d5" opacity="0.8"/>
<circle cx="975.8" cy="18.2" r="14.8" fill="#1d85cf"/>
<circle cx="975.8" cy="18.2" r="12" fill="#f3c400"/>
<circle cx="975.8" cy="18.2" r="11.2" fill="url(#lg2)"/>
<path d="M969 12 q3 -4 8 -2 q2 3 -1 5 q-4 2 -7 -3z" fill="#3d8fd8"/>
<path d="M968 16 q4 2 9 0" stroke="#f3c400" stroke-width="0.8" fill="none"/>
<circle cx="995.6" cy="18.3" r="17" fill="#1d5bab"/>
<circle cx="995.6" cy="18.3" r="14.8" fill="url(#lg1)"/>
<path d="M993 2.2 Q979 6 980.5 17 Q981.5 24 985 25.5" fill="none" stroke="#ffe01e" stroke-width="2.3" stroke-linecap="round"/>
<text x="985.2" y="22.8" font-family="Liberation Sans,sans-serif" font-size="10.5" font-weight="bold" fill="#ffffff" textLength="23" lengthAdjust="spacingAndGlyphs">MTP</text>
</svg>
<div class="t" style="left:786.80px;top:38.10px;width:400px;height:5.00px;line-height:5.00px;font-size:4.85px;-webkit-text-stroke:0.08px currentColor;color:#7a7a7a;text-align:center;">Marché des Titres Publics</div>
<div class="t" style="left:787.50px;top:43.70px;width:400px;height:4.00px;line-height:4.00px;font-size:3.2px;-webkit-text-stroke:0.08px currentColor;letter-spacing:0.007px;color:#3b9be0;text-align:center;">UMOA · TITRES</div>
</body></html>
